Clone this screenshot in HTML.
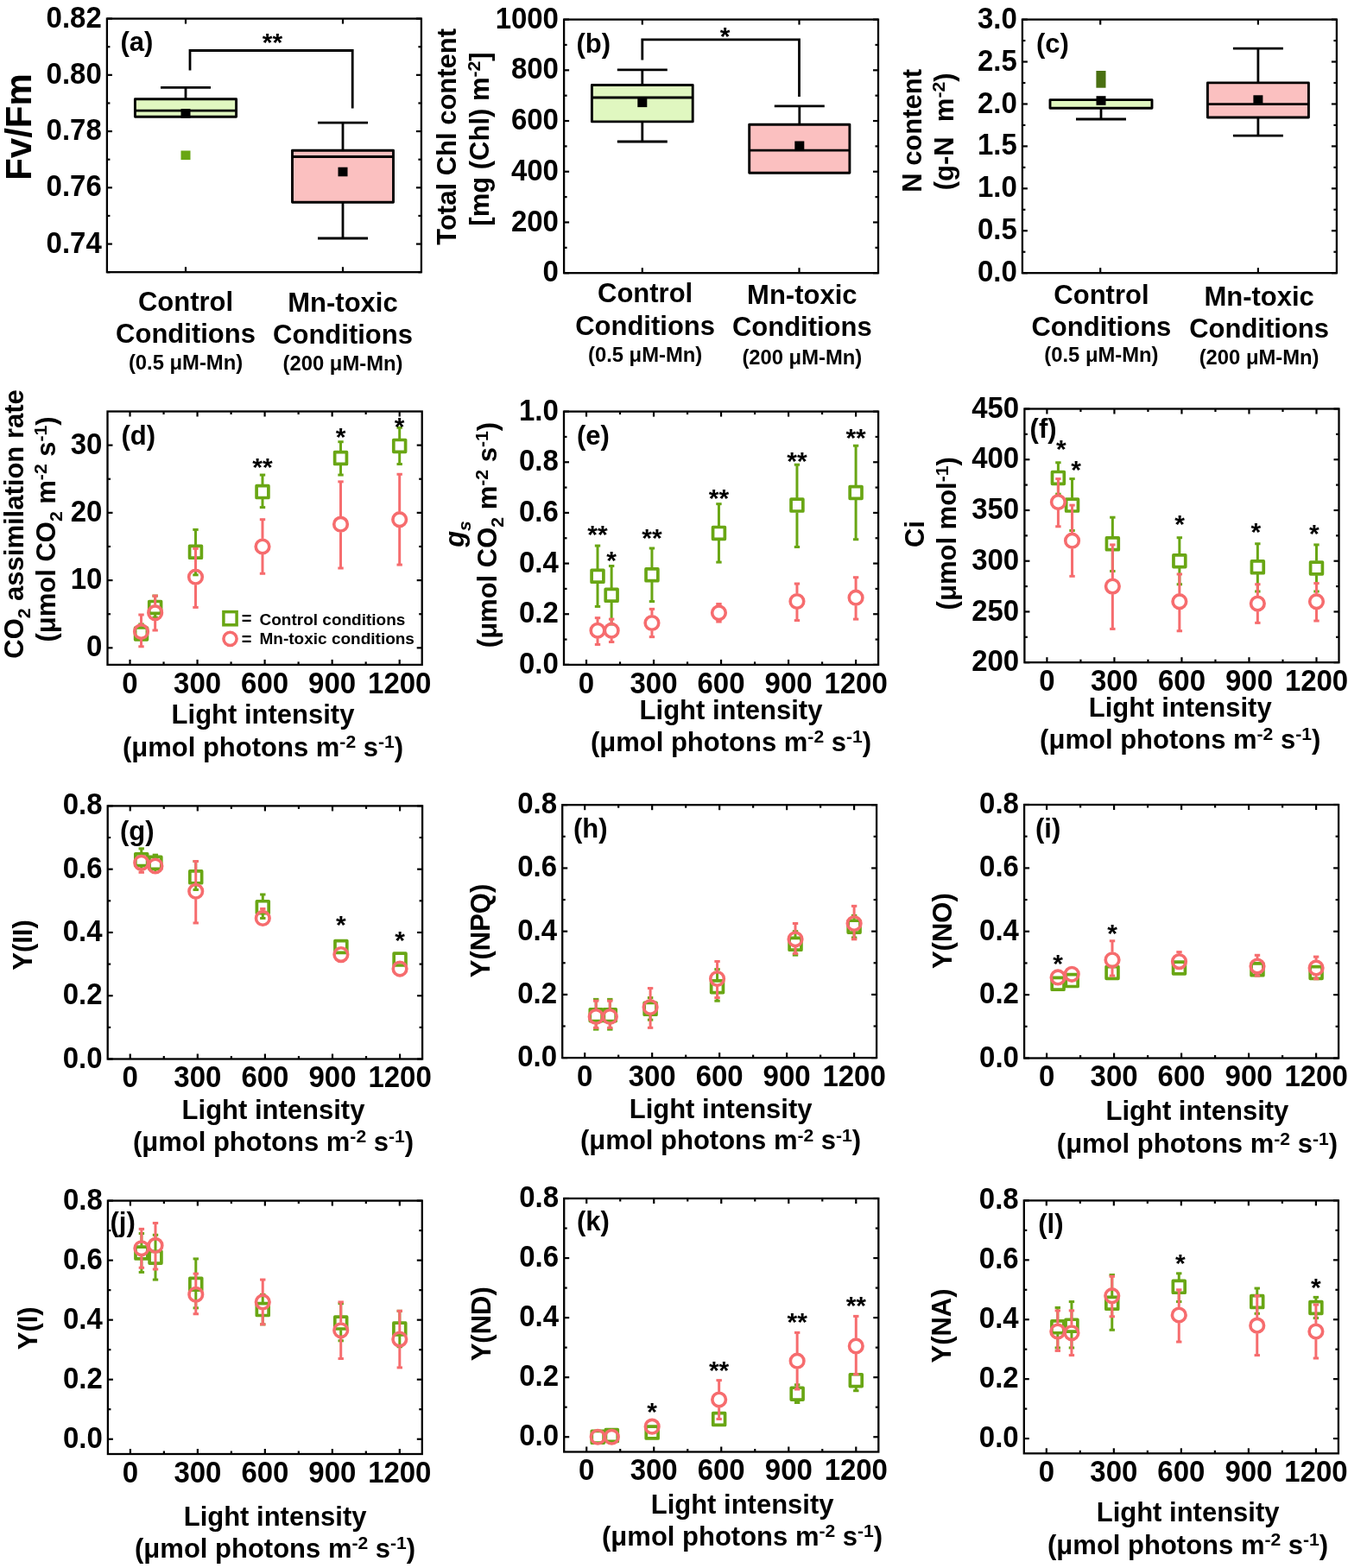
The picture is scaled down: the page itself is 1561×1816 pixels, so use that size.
<!DOCTYPE html>
<html><head><meta charset="utf-8"><title>Figure</title>
<style>
html,body{margin:0;padding:0;background:#fff;}
svg{display:block;}
text{font-family:'Liberation Sans', Arial, sans-serif;font-weight:bold;fill:#000;}
</style></head>
<body>
<svg width="1561" height="1816" viewBox="0 0 1561 1816">
<rect width="1561" height="1816" fill="#fff"/>
<line x1="215.00" y1="101.30" x2="215.00" y2="114.80" stroke="#000" stroke-width="2.8" />
<line x1="186.00" y1="101.30" x2="244.00" y2="101.30" stroke="#000" stroke-width="2.8" />
<rect x="156.40" y="114.80" width="117.20" height="20.40" fill="#e0f7c0" stroke="#000" stroke-width="2.9" stroke-linejoin="round"/>
<line x1="156.40" y1="128.20" x2="273.60" y2="128.20" stroke="#000" stroke-width="2.8" />
<rect x="209.50" y="126.10" width="11" height="10.6" fill="#000"/>
<line x1="397.00" y1="142.20" x2="397.00" y2="174.20" stroke="#000" stroke-width="2.8" />
<line x1="368.00" y1="142.20" x2="426.00" y2="142.20" stroke="#000" stroke-width="2.8" />
<line x1="397.00" y1="234.20" x2="397.00" y2="276.00" stroke="#000" stroke-width="2.8" />
<line x1="368.00" y1="276.00" x2="426.00" y2="276.00" stroke="#000" stroke-width="2.8" />
<rect x="338.50" y="174.20" width="117.00" height="60.00" fill="#fbc0c0" stroke="#000" stroke-width="2.9" stroke-linejoin="round"/>
<line x1="338.50" y1="181.50" x2="455.50" y2="181.50" stroke="#000" stroke-width="2.8" />
<rect x="391.50" y="193.70" width="11" height="10.6" fill="#000"/>
<rect x="209.5" y="174.5" width="11" height="10.6" fill="#69a614"/>
<rect x="123.9" y="21.6" width="364.0" height="293.6" fill="none" stroke="#000" stroke-width="2.3"/>
<line x1="123.90" y1="282.58" x2="129.90" y2="282.58" stroke="#000" stroke-width="2.2" />
<line x1="487.90" y1="282.58" x2="481.90" y2="282.58" stroke="#000" stroke-width="2.2" />
<text transform="translate(117.7,292.6) scale(0.975,1.03)" font-size="33.8" text-anchor="end" >0.74</text>
<line x1="123.90" y1="217.33" x2="129.90" y2="217.33" stroke="#000" stroke-width="2.2" />
<line x1="487.90" y1="217.33" x2="481.90" y2="217.33" stroke="#000" stroke-width="2.2" />
<text transform="translate(117.7,227.3) scale(0.975,1.03)" font-size="33.8" text-anchor="end" >0.76</text>
<line x1="123.90" y1="152.09" x2="129.90" y2="152.09" stroke="#000" stroke-width="2.2" />
<line x1="487.90" y1="152.09" x2="481.90" y2="152.09" stroke="#000" stroke-width="2.2" />
<text transform="translate(117.7,162.1) scale(0.975,1.03)" font-size="33.8" text-anchor="end" >0.78</text>
<line x1="123.90" y1="86.84" x2="129.90" y2="86.84" stroke="#000" stroke-width="2.2" />
<line x1="487.90" y1="86.84" x2="481.90" y2="86.84" stroke="#000" stroke-width="2.2" />
<text transform="translate(117.7,96.8) scale(0.975,1.03)" font-size="33.8" text-anchor="end" >0.80</text>
<line x1="123.90" y1="21.60" x2="129.90" y2="21.60" stroke="#000" stroke-width="2.2" />
<line x1="487.90" y1="21.60" x2="481.90" y2="21.60" stroke="#000" stroke-width="2.2" />
<text transform="translate(117.7,31.6) scale(0.975,1.03)" font-size="33.8" text-anchor="end" >0.82</text>
<line x1="123.90" y1="315.20" x2="127.40" y2="315.20" stroke="#000" stroke-width="2.2" />
<line x1="487.90" y1="315.20" x2="484.40" y2="315.20" stroke="#000" stroke-width="2.2" />
<line x1="123.90" y1="249.96" x2="127.40" y2="249.96" stroke="#000" stroke-width="2.2" />
<line x1="487.90" y1="249.96" x2="484.40" y2="249.96" stroke="#000" stroke-width="2.2" />
<line x1="123.90" y1="184.71" x2="127.40" y2="184.71" stroke="#000" stroke-width="2.2" />
<line x1="487.90" y1="184.71" x2="484.40" y2="184.71" stroke="#000" stroke-width="2.2" />
<line x1="123.90" y1="119.47" x2="127.40" y2="119.47" stroke="#000" stroke-width="2.2" />
<line x1="487.90" y1="119.47" x2="484.40" y2="119.47" stroke="#000" stroke-width="2.2" />
<line x1="123.90" y1="54.22" x2="127.40" y2="54.22" stroke="#000" stroke-width="2.2" />
<line x1="487.90" y1="54.22" x2="484.40" y2="54.22" stroke="#000" stroke-width="2.2" />
<line x1="215.00" y1="315.20" x2="215.00" y2="309.20" stroke="#000" stroke-width="2.2" />
<line x1="215.00" y1="21.60" x2="215.00" y2="27.60" stroke="#000" stroke-width="2.2" />
<line x1="397.00" y1="315.20" x2="397.00" y2="309.20" stroke="#000" stroke-width="2.2" />
<line x1="397.00" y1="21.60" x2="397.00" y2="27.60" stroke="#000" stroke-width="2.2" />
<polyline points="220,81.4 220,58.5 408.2,58.5 408.2,125.5" fill="none" stroke="#000" stroke-width="2.8"/>
<text transform="translate(315.5,59.0)" font-size="30" text-anchor="middle" >**</text>
<text transform="translate(139.5,59.4)" font-size="31" text-anchor="start" >(a)</text>
<text transform="translate(36.2,147.0) rotate(-90)" font-size="42" text-anchor="middle" >Fv/Fm</text>
<text transform="translate(215.0,360.0)" font-size="31" text-anchor="middle" >Control</text>
<text transform="translate(215.0,396.7)" font-size="31" text-anchor="middle" >Conditions</text>
<text transform="translate(215.0,427.7)" font-size="23.8" text-anchor="middle" >(0.5 μM-Mn)</text>
<text transform="translate(397.0,361.0)" font-size="31" text-anchor="middle" >Mn-toxic</text>
<text transform="translate(397.0,398.0)" font-size="31" text-anchor="middle" >Conditions</text>
<text transform="translate(397.0,428.8)" font-size="23.8" text-anchor="middle" >(200 μM-Mn)</text>
<line x1="743.80" y1="80.80" x2="743.80" y2="98.50" stroke="#000" stroke-width="2.8" />
<line x1="714.80" y1="80.80" x2="772.80" y2="80.80" stroke="#000" stroke-width="2.8" />
<line x1="743.80" y1="140.90" x2="743.80" y2="164.00" stroke="#000" stroke-width="2.8" />
<line x1="714.80" y1="164.00" x2="772.80" y2="164.00" stroke="#000" stroke-width="2.8" />
<rect x="685.40" y="98.50" width="116.80" height="42.40" fill="#e0f7c0" stroke="#000" stroke-width="2.9" stroke-linejoin="round"/>
<line x1="685.40" y1="113.00" x2="802.20" y2="113.00" stroke="#000" stroke-width="2.8" />
<rect x="738.30" y="113.50" width="11" height="10.6" fill="#000"/>
<line x1="925.80" y1="122.90" x2="925.80" y2="144.30" stroke="#000" stroke-width="2.8" />
<line x1="896.80" y1="122.90" x2="954.80" y2="122.90" stroke="#000" stroke-width="2.8" />
<rect x="867.70" y="144.30" width="116.20" height="56.00" fill="#fbc0c0" stroke="#000" stroke-width="2.9" stroke-linejoin="round"/>
<line x1="867.70" y1="174.20" x2="983.90" y2="174.20" stroke="#000" stroke-width="2.8" />
<rect x="920.30" y="163.50" width="11" height="10.6" fill="#000"/>
<rect x="653.1" y="22.6" width="363.9" height="293.6" fill="none" stroke="#000" stroke-width="2.3"/>
<line x1="653.10" y1="316.20" x2="659.10" y2="316.20" stroke="#000" stroke-width="2.2" />
<line x1="1017.00" y1="316.20" x2="1011.00" y2="316.20" stroke="#000" stroke-width="2.2" />
<text transform="translate(646.9,326.2) scale(0.975,1.03)" font-size="33.8" text-anchor="end" >0</text>
<line x1="653.10" y1="257.48" x2="659.10" y2="257.48" stroke="#000" stroke-width="2.2" />
<line x1="1017.00" y1="257.48" x2="1011.00" y2="257.48" stroke="#000" stroke-width="2.2" />
<text transform="translate(646.9,267.5) scale(0.975,1.03)" font-size="33.8" text-anchor="end" >200</text>
<line x1="653.10" y1="198.76" x2="659.10" y2="198.76" stroke="#000" stroke-width="2.2" />
<line x1="1017.00" y1="198.76" x2="1011.00" y2="198.76" stroke="#000" stroke-width="2.2" />
<text transform="translate(646.9,208.8) scale(0.975,1.03)" font-size="33.8" text-anchor="end" >400</text>
<line x1="653.10" y1="140.04" x2="659.10" y2="140.04" stroke="#000" stroke-width="2.2" />
<line x1="1017.00" y1="140.04" x2="1011.00" y2="140.04" stroke="#000" stroke-width="2.2" />
<text transform="translate(646.9,150.0) scale(0.975,1.03)" font-size="33.8" text-anchor="end" >600</text>
<line x1="653.10" y1="81.32" x2="659.10" y2="81.32" stroke="#000" stroke-width="2.2" />
<line x1="1017.00" y1="81.32" x2="1011.00" y2="81.32" stroke="#000" stroke-width="2.2" />
<text transform="translate(646.9,91.3) scale(0.975,1.03)" font-size="33.8" text-anchor="end" >800</text>
<line x1="653.10" y1="22.60" x2="659.10" y2="22.60" stroke="#000" stroke-width="2.2" />
<line x1="1017.00" y1="22.60" x2="1011.00" y2="22.60" stroke="#000" stroke-width="2.2" />
<text transform="translate(646.9,32.6) scale(0.975,1.03)" font-size="33.8" text-anchor="end" >1000</text>
<line x1="653.10" y1="286.84" x2="656.60" y2="286.84" stroke="#000" stroke-width="2.2" />
<line x1="1017.00" y1="286.84" x2="1013.50" y2="286.84" stroke="#000" stroke-width="2.2" />
<line x1="653.10" y1="228.12" x2="656.60" y2="228.12" stroke="#000" stroke-width="2.2" />
<line x1="1017.00" y1="228.12" x2="1013.50" y2="228.12" stroke="#000" stroke-width="2.2" />
<line x1="653.10" y1="169.40" x2="656.60" y2="169.40" stroke="#000" stroke-width="2.2" />
<line x1="1017.00" y1="169.40" x2="1013.50" y2="169.40" stroke="#000" stroke-width="2.2" />
<line x1="653.10" y1="110.68" x2="656.60" y2="110.68" stroke="#000" stroke-width="2.2" />
<line x1="1017.00" y1="110.68" x2="1013.50" y2="110.68" stroke="#000" stroke-width="2.2" />
<line x1="653.10" y1="51.96" x2="656.60" y2="51.96" stroke="#000" stroke-width="2.2" />
<line x1="1017.00" y1="51.96" x2="1013.50" y2="51.96" stroke="#000" stroke-width="2.2" />
<line x1="743.80" y1="316.20" x2="743.80" y2="310.20" stroke="#000" stroke-width="2.2" />
<line x1="743.80" y1="22.60" x2="743.80" y2="28.60" stroke="#000" stroke-width="2.2" />
<line x1="925.50" y1="316.20" x2="925.50" y2="310.20" stroke="#000" stroke-width="2.2" />
<line x1="925.50" y1="22.60" x2="925.50" y2="28.60" stroke="#000" stroke-width="2.2" />
<polyline points="743.8,69.6 743.8,45.8 925.5,45.8 925.5,112" fill="none" stroke="#000" stroke-width="2.8"/>
<text transform="translate(839.5,51.5)" font-size="30" text-anchor="middle" >*</text>
<text transform="translate(667.5,60.5)" font-size="31" text-anchor="start" >(b)</text>
<text transform="translate(527.9,158.3) rotate(-90)" font-size="31" text-anchor="middle" >Total Chl content</text>
<text transform="translate(565.7,161.0) rotate(-90)" font-size="31" text-anchor="middle" >[mg (Chl) m<tspan dy="-9.9" font-size="21.1">-2</tspan><tspan dy="9.9">]</tspan></text>
<text transform="translate(747.1,350.2)" font-size="31" text-anchor="middle" >Control</text>
<text transform="translate(747.1,387.5)" font-size="31" text-anchor="middle" >Conditions</text>
<text transform="translate(747.1,418.5)" font-size="23.8" text-anchor="middle" >(0.5 μM-Mn)</text>
<text transform="translate(928.8,351.9)" font-size="31" text-anchor="middle" >Mn-toxic</text>
<text transform="translate(928.8,389.3)" font-size="31" text-anchor="middle" >Conditions</text>
<text transform="translate(928.8,421.5)" font-size="23.8" text-anchor="middle" >(200 μM-Mn)</text>
<line x1="1275.00" y1="125.30" x2="1275.00" y2="138.00" stroke="#000" stroke-width="2.8" />
<line x1="1246.00" y1="138.00" x2="1304.00" y2="138.00" stroke="#000" stroke-width="2.8" />
<rect x="1216.00" y="115.60" width="118.00" height="9.70" fill="#e0f7c0" stroke="#000" stroke-width="2.9" stroke-linejoin="round"/>
<rect x="1269.50" y="111.20" width="11" height="10.6" fill="#000"/>
<rect x="1269.4" y="82" width="11.1" height="19.7" fill="#4a7012"/>
<line x1="1456.90" y1="56.10" x2="1456.90" y2="95.90" stroke="#000" stroke-width="2.8" />
<line x1="1427.90" y1="56.10" x2="1485.90" y2="56.10" stroke="#000" stroke-width="2.8" />
<line x1="1456.90" y1="136.00" x2="1456.90" y2="157.10" stroke="#000" stroke-width="2.8" />
<line x1="1427.90" y1="157.10" x2="1485.90" y2="157.10" stroke="#000" stroke-width="2.8" />
<rect x="1398.40" y="95.90" width="117.00" height="40.10" fill="#fbc0c0" stroke="#000" stroke-width="2.9" stroke-linejoin="round"/>
<line x1="1398.40" y1="120.70" x2="1515.40" y2="120.70" stroke="#000" stroke-width="2.8" />
<rect x="1451.40" y="110.30" width="11" height="10.6" fill="#000"/>
<rect x="1183.9" y="22.6" width="364.0" height="293.6" fill="none" stroke="#000" stroke-width="2.3"/>
<line x1="1183.90" y1="316.20" x2="1189.90" y2="316.20" stroke="#000" stroke-width="2.2" />
<line x1="1547.90" y1="316.20" x2="1541.90" y2="316.20" stroke="#000" stroke-width="2.2" />
<text transform="translate(1177.7,326.2) scale(0.975,1.03)" font-size="33.8" text-anchor="end" >0.0</text>
<line x1="1183.90" y1="267.27" x2="1189.90" y2="267.27" stroke="#000" stroke-width="2.2" />
<line x1="1547.90" y1="267.27" x2="1541.90" y2="267.27" stroke="#000" stroke-width="2.2" />
<text transform="translate(1177.7,277.3) scale(0.975,1.03)" font-size="33.8" text-anchor="end" >0.5</text>
<line x1="1183.90" y1="218.33" x2="1189.90" y2="218.33" stroke="#000" stroke-width="2.2" />
<line x1="1547.90" y1="218.33" x2="1541.90" y2="218.33" stroke="#000" stroke-width="2.2" />
<text transform="translate(1177.7,228.3) scale(0.975,1.03)" font-size="33.8" text-anchor="end" >1.0</text>
<line x1="1183.90" y1="169.40" x2="1189.90" y2="169.40" stroke="#000" stroke-width="2.2" />
<line x1="1547.90" y1="169.40" x2="1541.90" y2="169.40" stroke="#000" stroke-width="2.2" />
<text transform="translate(1177.7,179.4) scale(0.975,1.03)" font-size="33.8" text-anchor="end" >1.5</text>
<line x1="1183.90" y1="120.47" x2="1189.90" y2="120.47" stroke="#000" stroke-width="2.2" />
<line x1="1547.90" y1="120.47" x2="1541.90" y2="120.47" stroke="#000" stroke-width="2.2" />
<text transform="translate(1177.7,130.5) scale(0.975,1.03)" font-size="33.8" text-anchor="end" >2.0</text>
<line x1="1183.90" y1="71.53" x2="1189.90" y2="71.53" stroke="#000" stroke-width="2.2" />
<line x1="1547.90" y1="71.53" x2="1541.90" y2="71.53" stroke="#000" stroke-width="2.2" />
<text transform="translate(1177.7,81.5) scale(0.975,1.03)" font-size="33.8" text-anchor="end" >2.5</text>
<line x1="1183.90" y1="22.60" x2="1189.90" y2="22.60" stroke="#000" stroke-width="2.2" />
<line x1="1547.90" y1="22.60" x2="1541.90" y2="22.60" stroke="#000" stroke-width="2.2" />
<text transform="translate(1177.7,32.6) scale(0.975,1.03)" font-size="33.8" text-anchor="end" >3.0</text>
<line x1="1183.90" y1="291.73" x2="1187.40" y2="291.73" stroke="#000" stroke-width="2.2" />
<line x1="1547.90" y1="291.73" x2="1544.40" y2="291.73" stroke="#000" stroke-width="2.2" />
<line x1="1183.90" y1="242.80" x2="1187.40" y2="242.80" stroke="#000" stroke-width="2.2" />
<line x1="1547.90" y1="242.80" x2="1544.40" y2="242.80" stroke="#000" stroke-width="2.2" />
<line x1="1183.90" y1="193.87" x2="1187.40" y2="193.87" stroke="#000" stroke-width="2.2" />
<line x1="1547.90" y1="193.87" x2="1544.40" y2="193.87" stroke="#000" stroke-width="2.2" />
<line x1="1183.90" y1="144.93" x2="1187.40" y2="144.93" stroke="#000" stroke-width="2.2" />
<line x1="1547.90" y1="144.93" x2="1544.40" y2="144.93" stroke="#000" stroke-width="2.2" />
<line x1="1183.90" y1="96.00" x2="1187.40" y2="96.00" stroke="#000" stroke-width="2.2" />
<line x1="1547.90" y1="96.00" x2="1544.40" y2="96.00" stroke="#000" stroke-width="2.2" />
<line x1="1183.90" y1="47.07" x2="1187.40" y2="47.07" stroke="#000" stroke-width="2.2" />
<line x1="1547.90" y1="47.07" x2="1544.40" y2="47.07" stroke="#000" stroke-width="2.2" />
<line x1="1274.20" y1="316.20" x2="1274.20" y2="310.20" stroke="#000" stroke-width="2.2" />
<line x1="1274.20" y1="22.60" x2="1274.20" y2="28.60" stroke="#000" stroke-width="2.2" />
<line x1="1456.90" y1="316.20" x2="1456.90" y2="310.20" stroke="#000" stroke-width="2.2" />
<line x1="1456.90" y1="22.60" x2="1456.90" y2="28.60" stroke="#000" stroke-width="2.2" />
<text transform="translate(1200.0,61.0)" font-size="31" text-anchor="start" >(c)</text>
<text transform="translate(1066.5,151.4) rotate(-90)" font-size="31" text-anchor="middle" >N content</text>
<text transform="translate(1103.9,152.4) rotate(-90)" font-size="31" text-anchor="middle" >(g-N&#160; m<tspan dy="-9.9" font-size="21.1">-2</tspan><tspan dy="9.9">)</tspan></text>
<text transform="translate(1275.4,352.0)" font-size="31" text-anchor="middle" >Control</text>
<text transform="translate(1275.4,388.8)" font-size="31" text-anchor="middle" >Conditions</text>
<text transform="translate(1275.4,419.3)" font-size="23.8" text-anchor="middle" >(0.5 μM-Mn)</text>
<text transform="translate(1458.1,353.7)" font-size="31" text-anchor="middle" >Mn-toxic</text>
<text transform="translate(1458.1,390.5)" font-size="31" text-anchor="middle" >Conditions</text>
<text transform="translate(1458.1,422.3)" font-size="23.8" text-anchor="middle" >(200 μM-Mn)</text>
<line x1="163.52" y1="722.96" x2="163.52" y2="725.66" stroke="#69a614" stroke-width="3" />
<line x1="160.32" y1="722.96" x2="166.72" y2="722.96" stroke="#69a614" stroke-width="3" />
<line x1="179.65" y1="690.10" x2="179.65" y2="695.15" stroke="#69a614" stroke-width="3" />
<line x1="176.45" y1="690.10" x2="182.85" y2="690.10" stroke="#69a614" stroke-width="3" />
<line x1="179.65" y1="711.65" x2="179.65" y2="715.13" stroke="#69a614" stroke-width="3" />
<line x1="176.45" y1="715.13" x2="182.85" y2="715.13" stroke="#69a614" stroke-width="3" />
<line x1="226.48" y1="613.42" x2="226.48" y2="630.99" stroke="#69a614" stroke-width="3" />
<line x1="223.28" y1="613.42" x2="229.68" y2="613.42" stroke="#69a614" stroke-width="3" />
<line x1="226.48" y1="647.49" x2="226.48" y2="665.84" stroke="#69a614" stroke-width="3" />
<line x1="223.28" y1="665.84" x2="229.68" y2="665.84" stroke="#69a614" stroke-width="3" />
<line x1="304.00" y1="550.05" x2="304.00" y2="561.36" stroke="#69a614" stroke-width="3" />
<line x1="300.80" y1="550.05" x2="307.20" y2="550.05" stroke="#69a614" stroke-width="3" />
<line x1="304.00" y1="577.86" x2="304.00" y2="587.60" stroke="#69a614" stroke-width="3" />
<line x1="300.80" y1="587.60" x2="307.20" y2="587.60" stroke="#69a614" stroke-width="3" />
<line x1="394.53" y1="511.71" x2="394.53" y2="522.24" stroke="#69a614" stroke-width="3" />
<line x1="391.33" y1="511.71" x2="397.73" y2="511.71" stroke="#69a614" stroke-width="3" />
<line x1="394.53" y1="538.74" x2="394.53" y2="550.05" stroke="#69a614" stroke-width="3" />
<line x1="391.33" y1="550.05" x2="397.73" y2="550.05" stroke="#69a614" stroke-width="3" />
<line x1="462.69" y1="495.28" x2="462.69" y2="508.15" stroke="#69a614" stroke-width="3" />
<line x1="459.49" y1="495.28" x2="465.89" y2="495.28" stroke="#69a614" stroke-width="3" />
<line x1="462.69" y1="524.65" x2="462.69" y2="537.53" stroke="#69a614" stroke-width="3" />
<line x1="459.49" y1="537.53" x2="465.89" y2="537.53" stroke="#69a614" stroke-width="3" />
<rect x="156.62" y="727.01" width="13.8" height="13.8" fill="none" stroke="#69a614" stroke-width="3.7" stroke-linejoin="round"/>
<rect x="172.75" y="696.50" width="13.8" height="13.8" fill="none" stroke="#69a614" stroke-width="3.7" stroke-linejoin="round"/>
<rect x="219.58" y="632.34" width="13.8" height="13.8" fill="none" stroke="#69a614" stroke-width="3.7" stroke-linejoin="round"/>
<rect x="297.10" y="562.71" width="13.8" height="13.8" fill="none" stroke="#69a614" stroke-width="3.7" stroke-linejoin="round"/>
<rect x="387.63" y="523.59" width="13.8" height="13.8" fill="none" stroke="#69a614" stroke-width="3.7" stroke-linejoin="round"/>
<rect x="455.79" y="509.50" width="13.8" height="13.8" fill="none" stroke="#69a614" stroke-width="3.7" stroke-linejoin="round"/>
<line x1="163.52" y1="712.00" x2="163.52" y2="722.46" stroke="#f66c6e" stroke-width="3" />
<line x1="160.32" y1="712.00" x2="166.72" y2="712.00" stroke="#f66c6e" stroke-width="3" />
<line x1="163.52" y1="740.66" x2="163.52" y2="748.78" stroke="#f66c6e" stroke-width="3" />
<line x1="160.32" y1="748.78" x2="166.72" y2="748.78" stroke="#f66c6e" stroke-width="3" />
<line x1="179.65" y1="690.10" x2="179.65" y2="700.56" stroke="#f66c6e" stroke-width="3" />
<line x1="176.45" y1="690.10" x2="182.85" y2="690.10" stroke="#f66c6e" stroke-width="3" />
<line x1="179.65" y1="718.76" x2="179.65" y2="730.00" stroke="#f66c6e" stroke-width="3" />
<line x1="176.45" y1="730.00" x2="182.85" y2="730.00" stroke="#f66c6e" stroke-width="3" />
<line x1="226.48" y1="635.33" x2="226.48" y2="659.09" stroke="#f66c6e" stroke-width="3" />
<line x1="223.28" y1="635.33" x2="229.68" y2="635.33" stroke="#f66c6e" stroke-width="3" />
<line x1="226.48" y1="677.29" x2="226.48" y2="703.40" stroke="#f66c6e" stroke-width="3" />
<line x1="223.28" y1="703.40" x2="229.68" y2="703.40" stroke="#f66c6e" stroke-width="3" />
<line x1="304.00" y1="601.68" x2="304.00" y2="623.88" stroke="#f66c6e" stroke-width="3" />
<line x1="300.80" y1="601.68" x2="307.20" y2="601.68" stroke="#f66c6e" stroke-width="3" />
<line x1="304.00" y1="642.08" x2="304.00" y2="664.28" stroke="#f66c6e" stroke-width="3" />
<line x1="300.80" y1="664.28" x2="307.20" y2="664.28" stroke="#f66c6e" stroke-width="3" />
<line x1="394.53" y1="557.87" x2="394.53" y2="598.06" stroke="#f66c6e" stroke-width="3" />
<line x1="391.33" y1="557.87" x2="397.73" y2="557.87" stroke="#f66c6e" stroke-width="3" />
<line x1="394.53" y1="616.26" x2="394.53" y2="658.02" stroke="#f66c6e" stroke-width="3" />
<line x1="391.33" y1="658.02" x2="397.73" y2="658.02" stroke="#f66c6e" stroke-width="3" />
<line x1="462.69" y1="549.26" x2="462.69" y2="592.58" stroke="#f66c6e" stroke-width="3" />
<line x1="459.49" y1="549.26" x2="465.89" y2="549.26" stroke="#f66c6e" stroke-width="3" />
<line x1="462.69" y1="610.78" x2="462.69" y2="654.10" stroke="#f66c6e" stroke-width="3" />
<line x1="459.49" y1="654.10" x2="465.89" y2="654.10" stroke="#f66c6e" stroke-width="3" />
<circle cx="163.52" cy="731.56" r="7.8" fill="none" stroke="#f66c6e" stroke-width="3.6"/>
<circle cx="179.65" cy="709.66" r="7.8" fill="none" stroke="#f66c6e" stroke-width="3.6"/>
<circle cx="226.48" cy="668.19" r="7.8" fill="none" stroke="#f66c6e" stroke-width="3.6"/>
<circle cx="304.00" cy="632.98" r="7.8" fill="none" stroke="#f66c6e" stroke-width="3.6"/>
<circle cx="394.53" cy="607.16" r="7.8" fill="none" stroke="#f66c6e" stroke-width="3.6"/>
<circle cx="462.69" cy="601.68" r="7.8" fill="none" stroke="#f66c6e" stroke-width="3.6"/>
<rect x="124.5" y="476.5" width="364.2" height="293.4" fill="none" stroke="#000" stroke-width="2.3"/>
<line x1="124.50" y1="750.34" x2="130.50" y2="750.34" stroke="#000" stroke-width="2.2" />
<line x1="488.70" y1="750.34" x2="482.70" y2="750.34" stroke="#000" stroke-width="2.2" />
<text transform="translate(118.3,760.3) scale(0.975,1.03)" font-size="33.8" text-anchor="end" >0</text>
<line x1="124.50" y1="672.10" x2="130.50" y2="672.10" stroke="#000" stroke-width="2.2" />
<line x1="488.70" y1="672.10" x2="482.70" y2="672.10" stroke="#000" stroke-width="2.2" />
<text transform="translate(118.3,682.1) scale(0.975,1.03)" font-size="33.8" text-anchor="end" >10</text>
<line x1="124.50" y1="593.86" x2="130.50" y2="593.86" stroke="#000" stroke-width="2.2" />
<line x1="488.70" y1="593.86" x2="482.70" y2="593.86" stroke="#000" stroke-width="2.2" />
<text transform="translate(118.3,603.9) scale(0.975,1.03)" font-size="33.8" text-anchor="end" >20</text>
<line x1="124.50" y1="515.62" x2="130.50" y2="515.62" stroke="#000" stroke-width="2.2" />
<line x1="488.70" y1="515.62" x2="482.70" y2="515.62" stroke="#000" stroke-width="2.2" />
<text transform="translate(118.3,525.6) scale(0.975,1.03)" font-size="33.8" text-anchor="end" >30</text>
<line x1="124.50" y1="711.22" x2="128.00" y2="711.22" stroke="#000" stroke-width="2.2" />
<line x1="488.70" y1="711.22" x2="485.20" y2="711.22" stroke="#000" stroke-width="2.2" />
<line x1="124.50" y1="632.98" x2="128.00" y2="632.98" stroke="#000" stroke-width="2.2" />
<line x1="488.70" y1="632.98" x2="485.20" y2="632.98" stroke="#000" stroke-width="2.2" />
<line x1="124.50" y1="554.74" x2="128.00" y2="554.74" stroke="#000" stroke-width="2.2" />
<line x1="488.70" y1="554.74" x2="485.20" y2="554.74" stroke="#000" stroke-width="2.2" />
<line x1="150.51" y1="769.90" x2="150.51" y2="763.90" stroke="#000" stroke-width="2.2" />
<line x1="150.51" y1="476.50" x2="150.51" y2="482.50" stroke="#000" stroke-width="2.2" />
<text transform="translate(150.5,802.5) scale(0.975,1.03)" font-size="33.8" text-anchor="middle" >0</text>
<line x1="228.56" y1="769.90" x2="228.56" y2="763.90" stroke="#000" stroke-width="2.2" />
<line x1="228.56" y1="476.50" x2="228.56" y2="482.50" stroke="#000" stroke-width="2.2" />
<text transform="translate(228.6,802.5) scale(0.975,1.03)" font-size="33.8" text-anchor="middle" >300</text>
<line x1="306.60" y1="769.90" x2="306.60" y2="763.90" stroke="#000" stroke-width="2.2" />
<line x1="306.60" y1="476.50" x2="306.60" y2="482.50" stroke="#000" stroke-width="2.2" />
<text transform="translate(306.6,802.5) scale(0.975,1.03)" font-size="33.8" text-anchor="middle" >600</text>
<line x1="384.64" y1="769.90" x2="384.64" y2="763.90" stroke="#000" stroke-width="2.2" />
<line x1="384.64" y1="476.50" x2="384.64" y2="482.50" stroke="#000" stroke-width="2.2" />
<text transform="translate(384.6,802.5) scale(0.975,1.03)" font-size="33.8" text-anchor="middle" >900</text>
<line x1="462.69" y1="769.90" x2="462.69" y2="763.90" stroke="#000" stroke-width="2.2" />
<line x1="462.69" y1="476.50" x2="462.69" y2="482.50" stroke="#000" stroke-width="2.2" />
<text transform="translate(462.7,802.5) scale(0.975,1.03)" font-size="33.8" text-anchor="middle" >1200</text>
<line x1="189.54" y1="769.90" x2="189.54" y2="766.40" stroke="#000" stroke-width="2.2" />
<line x1="189.54" y1="476.50" x2="189.54" y2="480.00" stroke="#000" stroke-width="2.2" />
<line x1="267.58" y1="769.90" x2="267.58" y2="766.40" stroke="#000" stroke-width="2.2" />
<line x1="267.58" y1="476.50" x2="267.58" y2="480.00" stroke="#000" stroke-width="2.2" />
<line x1="345.62" y1="769.90" x2="345.62" y2="766.40" stroke="#000" stroke-width="2.2" />
<line x1="345.62" y1="476.50" x2="345.62" y2="480.00" stroke="#000" stroke-width="2.2" />
<line x1="423.66" y1="769.90" x2="423.66" y2="766.40" stroke="#000" stroke-width="2.2" />
<line x1="423.66" y1="476.50" x2="423.66" y2="480.00" stroke="#000" stroke-width="2.2" />
<text transform="translate(304.0,551.2)" font-size="30" text-anchor="middle" >**</text>
<text transform="translate(394.5,516.2)" font-size="30" text-anchor="middle" >*</text>
<text transform="translate(462.7,503.9)" font-size="30" text-anchor="middle" >*</text>
<text transform="translate(140.5,514.6)" font-size="31" text-anchor="start" >(d)</text>
<rect x="258.9" y="708.6" width="15.2" height="15.2" fill="none" stroke="#69a614" stroke-width="3.5"/>
<circle cx="266.5" cy="739.8" r="7.6" fill="none" stroke="#f66c6e" stroke-width="3.5"/>
<text transform="translate(279.8,723.2)" font-size="20" text-anchor="start" font-weight:normal>=</text>
<text transform="translate(279.8,746.6)" font-size="20" text-anchor="start" font-weight:normal>=</text>
<text transform="translate(300.5,724.2)" font-size="19" text-anchor="start" >Control conditions</text>
<text transform="translate(300.5,746.2)" font-size="19" text-anchor="start" >Mn-toxic conditions</text>
<text transform="translate(27.0,607.0) rotate(-90)" font-size="31" text-anchor="middle" >CO<tspan dy="8.1" font-size="21.1">2</tspan><tspan dy="-8.1"> assimilation rate</tspan></text>
<text transform="translate(63.9,613.0) rotate(-90)" font-size="31" text-anchor="middle" >(μmol CO<tspan dy="8.1" font-size="21.1">2</tspan><tspan dy="-8.1"> m</tspan><tspan dy="-9.9" font-size="21.1">-2</tspan><tspan dy="9.9"> s</tspan><tspan dy="-9.9" font-size="21.1">-1</tspan><tspan dy="9.9">)</tspan></text>
<text transform="translate(304.5,837.6)" font-size="31" text-anchor="middle" >Light intensity</text>
<text transform="translate(304.5,875.8)" font-size="31" text-anchor="middle" >(μmol photons m<tspan dy="-9.9" font-size="21.1">-2</tspan><tspan dy="9.9"> s</tspan><tspan dy="-9.9" font-size="21.1">-1</tspan><tspan dy="9.9">)</tspan></text>
<line x1="692.01" y1="632.05" x2="692.01" y2="659.00" stroke="#69a614" stroke-width="3" />
<line x1="688.81" y1="632.05" x2="695.21" y2="632.05" stroke="#69a614" stroke-width="3" />
<line x1="692.01" y1="675.50" x2="692.01" y2="702.44" stroke="#69a614" stroke-width="3" />
<line x1="688.81" y1="702.44" x2="695.21" y2="702.44" stroke="#69a614" stroke-width="3" />
<line x1="708.14" y1="655.51" x2="708.14" y2="680.99" stroke="#69a614" stroke-width="3" />
<line x1="704.94" y1="655.51" x2="711.34" y2="655.51" stroke="#69a614" stroke-width="3" />
<line x1="708.14" y1="697.49" x2="708.14" y2="722.97" stroke="#69a614" stroke-width="3" />
<line x1="704.94" y1="722.97" x2="711.34" y2="722.97" stroke="#69a614" stroke-width="3" />
<line x1="754.95" y1="634.98" x2="754.95" y2="657.53" stroke="#69a614" stroke-width="3" />
<line x1="751.75" y1="634.98" x2="758.15" y2="634.98" stroke="#69a614" stroke-width="3" />
<line x1="754.95" y1="674.03" x2="754.95" y2="696.58" stroke="#69a614" stroke-width="3" />
<line x1="751.75" y1="696.58" x2="758.15" y2="696.58" stroke="#69a614" stroke-width="3" />
<line x1="832.45" y1="583.65" x2="832.45" y2="609.13" stroke="#69a614" stroke-width="3" />
<line x1="829.25" y1="583.65" x2="835.65" y2="583.65" stroke="#69a614" stroke-width="3" />
<line x1="832.45" y1="625.63" x2="832.45" y2="651.11" stroke="#69a614" stroke-width="3" />
<line x1="829.25" y1="651.11" x2="835.65" y2="651.11" stroke="#69a614" stroke-width="3" />
<line x1="922.95" y1="538.19" x2="922.95" y2="576.87" stroke="#69a614" stroke-width="3" />
<line x1="919.75" y1="538.19" x2="926.15" y2="538.19" stroke="#69a614" stroke-width="3" />
<line x1="922.95" y1="593.37" x2="922.95" y2="633.52" stroke="#69a614" stroke-width="3" />
<line x1="919.75" y1="633.52" x2="926.15" y2="633.52" stroke="#69a614" stroke-width="3" />
<line x1="991.09" y1="516.20" x2="991.09" y2="562.21" stroke="#69a614" stroke-width="3" />
<line x1="987.89" y1="516.20" x2="994.29" y2="516.20" stroke="#69a614" stroke-width="3" />
<line x1="991.09" y1="578.71" x2="991.09" y2="624.72" stroke="#69a614" stroke-width="3" />
<line x1="987.89" y1="624.72" x2="994.29" y2="624.72" stroke="#69a614" stroke-width="3" />
<rect x="685.11" y="660.35" width="13.8" height="13.8" fill="none" stroke="#69a614" stroke-width="3.7" stroke-linejoin="round"/>
<rect x="701.24" y="682.34" width="13.8" height="13.8" fill="none" stroke="#69a614" stroke-width="3.7" stroke-linejoin="round"/>
<rect x="748.05" y="658.88" width="13.8" height="13.8" fill="none" stroke="#69a614" stroke-width="3.7" stroke-linejoin="round"/>
<rect x="825.55" y="610.48" width="13.8" height="13.8" fill="none" stroke="#69a614" stroke-width="3.7" stroke-linejoin="round"/>
<rect x="916.05" y="578.22" width="13.8" height="13.8" fill="none" stroke="#69a614" stroke-width="3.7" stroke-linejoin="round"/>
<rect x="984.19" y="563.56" width="13.8" height="13.8" fill="none" stroke="#69a614" stroke-width="3.7" stroke-linejoin="round"/>
<line x1="692.01" y1="715.64" x2="692.01" y2="721.20" stroke="#f66c6e" stroke-width="3" />
<line x1="688.81" y1="715.64" x2="695.21" y2="715.64" stroke="#f66c6e" stroke-width="3" />
<line x1="692.01" y1="739.40" x2="692.01" y2="746.44" stroke="#f66c6e" stroke-width="3" />
<line x1="688.81" y1="746.44" x2="695.21" y2="746.44" stroke="#f66c6e" stroke-width="3" />
<line x1="708.14" y1="717.11" x2="708.14" y2="721.20" stroke="#f66c6e" stroke-width="3" />
<line x1="704.94" y1="717.11" x2="711.34" y2="717.11" stroke="#f66c6e" stroke-width="3" />
<line x1="708.14" y1="739.40" x2="708.14" y2="743.50" stroke="#f66c6e" stroke-width="3" />
<line x1="704.94" y1="743.50" x2="711.34" y2="743.50" stroke="#f66c6e" stroke-width="3" />
<line x1="754.95" y1="705.37" x2="754.95" y2="712.41" stroke="#f66c6e" stroke-width="3" />
<line x1="751.75" y1="705.37" x2="758.15" y2="705.37" stroke="#f66c6e" stroke-width="3" />
<line x1="754.95" y1="730.61" x2="754.95" y2="737.64" stroke="#f66c6e" stroke-width="3" />
<line x1="751.75" y1="737.64" x2="758.15" y2="737.64" stroke="#f66c6e" stroke-width="3" />
<line x1="832.45" y1="699.51" x2="832.45" y2="700.67" stroke="#f66c6e" stroke-width="3" />
<line x1="829.25" y1="699.51" x2="835.65" y2="699.51" stroke="#f66c6e" stroke-width="3" />
<line x1="832.45" y1="718.87" x2="832.45" y2="720.04" stroke="#f66c6e" stroke-width="3" />
<line x1="829.25" y1="720.04" x2="835.65" y2="720.04" stroke="#f66c6e" stroke-width="3" />
<line x1="922.95" y1="676.04" x2="922.95" y2="687.48" stroke="#f66c6e" stroke-width="3" />
<line x1="919.75" y1="676.04" x2="926.15" y2="676.04" stroke="#f66c6e" stroke-width="3" />
<line x1="922.95" y1="705.68" x2="922.95" y2="718.57" stroke="#f66c6e" stroke-width="3" />
<line x1="919.75" y1="718.57" x2="926.15" y2="718.57" stroke="#f66c6e" stroke-width="3" />
<line x1="991.09" y1="668.71" x2="991.09" y2="683.08" stroke="#f66c6e" stroke-width="3" />
<line x1="987.89" y1="668.71" x2="994.29" y2="668.71" stroke="#f66c6e" stroke-width="3" />
<line x1="991.09" y1="701.28" x2="991.09" y2="717.11" stroke="#f66c6e" stroke-width="3" />
<line x1="987.89" y1="717.11" x2="994.29" y2="717.11" stroke="#f66c6e" stroke-width="3" />
<circle cx="692.01" cy="730.30" r="7.8" fill="none" stroke="#f66c6e" stroke-width="3.6"/>
<circle cx="708.14" cy="730.30" r="7.8" fill="none" stroke="#f66c6e" stroke-width="3.6"/>
<circle cx="754.95" cy="721.51" r="7.8" fill="none" stroke="#f66c6e" stroke-width="3.6"/>
<circle cx="832.45" cy="709.77" r="7.8" fill="none" stroke="#f66c6e" stroke-width="3.6"/>
<circle cx="922.95" cy="696.58" r="7.8" fill="none" stroke="#f66c6e" stroke-width="3.6"/>
<circle cx="991.09" cy="692.18" r="7.8" fill="none" stroke="#f66c6e" stroke-width="3.6"/>
<rect x="653.0" y="476.6" width="364.1" height="293.3" fill="none" stroke="#000" stroke-width="2.3"/>
<line x1="653.00" y1="769.90" x2="659.00" y2="769.90" stroke="#000" stroke-width="2.2" />
<line x1="1017.10" y1="769.90" x2="1011.10" y2="769.90" stroke="#000" stroke-width="2.2" />
<text transform="translate(646.8,779.9) scale(0.975,1.03)" font-size="33.8" text-anchor="end" >0.0</text>
<line x1="653.00" y1="711.24" x2="659.00" y2="711.24" stroke="#000" stroke-width="2.2" />
<line x1="1017.10" y1="711.24" x2="1011.10" y2="711.24" stroke="#000" stroke-width="2.2" />
<text transform="translate(646.8,721.2) scale(0.975,1.03)" font-size="33.8" text-anchor="end" >0.2</text>
<line x1="653.00" y1="652.58" x2="659.00" y2="652.58" stroke="#000" stroke-width="2.2" />
<line x1="1017.10" y1="652.58" x2="1011.10" y2="652.58" stroke="#000" stroke-width="2.2" />
<text transform="translate(646.8,662.6) scale(0.975,1.03)" font-size="33.8" text-anchor="end" >0.4</text>
<line x1="653.00" y1="593.92" x2="659.00" y2="593.92" stroke="#000" stroke-width="2.2" />
<line x1="1017.10" y1="593.92" x2="1011.10" y2="593.92" stroke="#000" stroke-width="2.2" />
<text transform="translate(646.8,603.9) scale(0.975,1.03)" font-size="33.8" text-anchor="end" >0.6</text>
<line x1="653.00" y1="535.26" x2="659.00" y2="535.26" stroke="#000" stroke-width="2.2" />
<line x1="1017.10" y1="535.26" x2="1011.10" y2="535.26" stroke="#000" stroke-width="2.2" />
<text transform="translate(646.8,545.3) scale(0.975,1.03)" font-size="33.8" text-anchor="end" >0.8</text>
<line x1="653.00" y1="476.60" x2="659.00" y2="476.60" stroke="#000" stroke-width="2.2" />
<line x1="1017.10" y1="476.60" x2="1011.10" y2="476.60" stroke="#000" stroke-width="2.2" />
<text transform="translate(646.8,486.6) scale(0.975,1.03)" font-size="33.8" text-anchor="end" >1.0</text>
<line x1="653.00" y1="740.57" x2="656.50" y2="740.57" stroke="#000" stroke-width="2.2" />
<line x1="1017.10" y1="740.57" x2="1013.60" y2="740.57" stroke="#000" stroke-width="2.2" />
<line x1="653.00" y1="681.91" x2="656.50" y2="681.91" stroke="#000" stroke-width="2.2" />
<line x1="1017.10" y1="681.91" x2="1013.60" y2="681.91" stroke="#000" stroke-width="2.2" />
<line x1="653.00" y1="623.25" x2="656.50" y2="623.25" stroke="#000" stroke-width="2.2" />
<line x1="1017.10" y1="623.25" x2="1013.60" y2="623.25" stroke="#000" stroke-width="2.2" />
<line x1="653.00" y1="564.59" x2="656.50" y2="564.59" stroke="#000" stroke-width="2.2" />
<line x1="1017.10" y1="564.59" x2="1013.60" y2="564.59" stroke="#000" stroke-width="2.2" />
<line x1="653.00" y1="505.93" x2="656.50" y2="505.93" stroke="#000" stroke-width="2.2" />
<line x1="1017.10" y1="505.93" x2="1013.60" y2="505.93" stroke="#000" stroke-width="2.2" />
<line x1="679.01" y1="769.90" x2="679.01" y2="763.90" stroke="#000" stroke-width="2.2" />
<line x1="679.01" y1="476.60" x2="679.01" y2="482.60" stroke="#000" stroke-width="2.2" />
<text transform="translate(679.0,802.5) scale(0.975,1.03)" font-size="33.8" text-anchor="middle" >0</text>
<line x1="757.03" y1="769.90" x2="757.03" y2="763.90" stroke="#000" stroke-width="2.2" />
<line x1="757.03" y1="476.60" x2="757.03" y2="482.60" stroke="#000" stroke-width="2.2" />
<text transform="translate(757.0,802.5) scale(0.975,1.03)" font-size="33.8" text-anchor="middle" >300</text>
<line x1="835.05" y1="769.90" x2="835.05" y2="763.90" stroke="#000" stroke-width="2.2" />
<line x1="835.05" y1="476.60" x2="835.05" y2="482.60" stroke="#000" stroke-width="2.2" />
<text transform="translate(835.0,802.5) scale(0.975,1.03)" font-size="33.8" text-anchor="middle" >600</text>
<line x1="913.07" y1="769.90" x2="913.07" y2="763.90" stroke="#000" stroke-width="2.2" />
<line x1="913.07" y1="476.60" x2="913.07" y2="482.60" stroke="#000" stroke-width="2.2" />
<text transform="translate(913.1,802.5) scale(0.975,1.03)" font-size="33.8" text-anchor="middle" >900</text>
<line x1="991.09" y1="769.90" x2="991.09" y2="763.90" stroke="#000" stroke-width="2.2" />
<line x1="991.09" y1="476.60" x2="991.09" y2="482.60" stroke="#000" stroke-width="2.2" />
<text transform="translate(991.1,802.5) scale(0.975,1.03)" font-size="33.8" text-anchor="middle" >1200</text>
<line x1="718.02" y1="769.90" x2="718.02" y2="766.40" stroke="#000" stroke-width="2.2" />
<line x1="718.02" y1="476.60" x2="718.02" y2="480.10" stroke="#000" stroke-width="2.2" />
<line x1="796.04" y1="769.90" x2="796.04" y2="766.40" stroke="#000" stroke-width="2.2" />
<line x1="796.04" y1="476.60" x2="796.04" y2="480.10" stroke="#000" stroke-width="2.2" />
<line x1="874.06" y1="769.90" x2="874.06" y2="766.40" stroke="#000" stroke-width="2.2" />
<line x1="874.06" y1="476.60" x2="874.06" y2="480.10" stroke="#000" stroke-width="2.2" />
<line x1="952.08" y1="769.90" x2="952.08" y2="766.40" stroke="#000" stroke-width="2.2" />
<line x1="952.08" y1="476.60" x2="952.08" y2="480.10" stroke="#000" stroke-width="2.2" />
<text transform="translate(692.0,628.5)" font-size="30" text-anchor="middle" >**</text>
<text transform="translate(708.1,658.5)" font-size="30" text-anchor="middle" >*</text>
<text transform="translate(754.9,632.8)" font-size="30" text-anchor="middle" >**</text>
<text transform="translate(832.4,587.2)" font-size="30" text-anchor="middle" >**</text>
<text transform="translate(923.0,543.8)" font-size="30" text-anchor="middle" >**</text>
<text transform="translate(991.1,517.2)" font-size="30" text-anchor="middle" >**</text>
<text transform="translate(668.0,514.5)" font-size="31" text-anchor="start" >(e)</text>
<text transform="translate(537.0,618.5) rotate(-90)" font-size="31" text-anchor="middle" ><tspan font-style="italic" dy="0.0">g</tspan><tspan dy="8.1" font-size="21.1"><tspan font-style="italic">s</tspan></tspan></text>
<text transform="translate(574.5,619.6) rotate(-90)" font-size="31" text-anchor="middle" >(μmol CO<tspan dy="8.1" font-size="21.1">2</tspan><tspan dy="-8.1"> m</tspan><tspan dy="-9.9" font-size="21.1">-2</tspan><tspan dy="9.9"> s</tspan><tspan dy="-9.9" font-size="21.1">-1</tspan><tspan dy="9.9">)</tspan></text>
<text transform="translate(846.5,832.6)" font-size="31" text-anchor="middle" >Light intensity</text>
<text transform="translate(846.5,869.5)" font-size="31" text-anchor="middle" >(μmol photons m<tspan dy="-9.9" font-size="21.1">-2</tspan><tspan dy="9.9"> s</tspan><tspan dy="-9.9" font-size="21.1">-1</tspan><tspan dy="9.9">)</tspan></text>
<line x1="1225.41" y1="535.76" x2="1225.41" y2="545.14" stroke="#69a614" stroke-width="3" />
<line x1="1222.21" y1="535.76" x2="1228.61" y2="535.76" stroke="#69a614" stroke-width="3" />
<line x1="1225.41" y1="561.64" x2="1225.41" y2="572.18" stroke="#69a614" stroke-width="3" />
<line x1="1222.21" y1="572.18" x2="1228.61" y2="572.18" stroke="#69a614" stroke-width="3" />
<line x1="1241.54" y1="554.56" x2="1241.54" y2="576.86" stroke="#69a614" stroke-width="3" />
<line x1="1238.34" y1="554.56" x2="1244.74" y2="554.56" stroke="#69a614" stroke-width="3" />
<line x1="1241.54" y1="593.36" x2="1241.54" y2="614.48" stroke="#69a614" stroke-width="3" />
<line x1="1238.34" y1="614.48" x2="1244.74" y2="614.48" stroke="#69a614" stroke-width="3" />
<line x1="1288.35" y1="599.20" x2="1288.35" y2="621.50" stroke="#69a614" stroke-width="3" />
<line x1="1285.15" y1="599.20" x2="1291.55" y2="599.20" stroke="#69a614" stroke-width="3" />
<line x1="1288.35" y1="638.00" x2="1288.35" y2="661.47" stroke="#69a614" stroke-width="3" />
<line x1="1285.15" y1="661.47" x2="1291.55" y2="661.47" stroke="#69a614" stroke-width="3" />
<line x1="1365.85" y1="622.70" x2="1365.85" y2="641.47" stroke="#69a614" stroke-width="3" />
<line x1="1362.65" y1="622.70" x2="1369.05" y2="622.70" stroke="#69a614" stroke-width="3" />
<line x1="1365.85" y1="657.97" x2="1365.85" y2="676.74" stroke="#69a614" stroke-width="3" />
<line x1="1362.65" y1="676.74" x2="1369.05" y2="676.74" stroke="#69a614" stroke-width="3" />
<line x1="1456.35" y1="629.75" x2="1456.35" y2="648.52" stroke="#69a614" stroke-width="3" />
<line x1="1453.15" y1="629.75" x2="1459.55" y2="629.75" stroke="#69a614" stroke-width="3" />
<line x1="1456.35" y1="665.02" x2="1456.35" y2="684.96" stroke="#69a614" stroke-width="3" />
<line x1="1453.15" y1="684.96" x2="1459.55" y2="684.96" stroke="#69a614" stroke-width="3" />
<line x1="1524.49" y1="630.92" x2="1524.49" y2="649.69" stroke="#69a614" stroke-width="3" />
<line x1="1521.29" y1="630.92" x2="1527.69" y2="630.92" stroke="#69a614" stroke-width="3" />
<line x1="1524.49" y1="666.19" x2="1524.49" y2="684.96" stroke="#69a614" stroke-width="3" />
<line x1="1521.29" y1="684.96" x2="1527.69" y2="684.96" stroke="#69a614" stroke-width="3" />
<rect x="1218.51" y="546.49" width="13.8" height="13.8" fill="none" stroke="#69a614" stroke-width="3.7" stroke-linejoin="round"/>
<rect x="1234.64" y="578.21" width="13.8" height="13.8" fill="none" stroke="#69a614" stroke-width="3.7" stroke-linejoin="round"/>
<rect x="1281.45" y="622.85" width="13.8" height="13.8" fill="none" stroke="#69a614" stroke-width="3.7" stroke-linejoin="round"/>
<rect x="1358.95" y="642.82" width="13.8" height="13.8" fill="none" stroke="#69a614" stroke-width="3.7" stroke-linejoin="round"/>
<rect x="1449.45" y="649.87" width="13.8" height="13.8" fill="none" stroke="#69a614" stroke-width="3.7" stroke-linejoin="round"/>
<rect x="1517.59" y="651.04" width="13.8" height="13.8" fill="none" stroke="#69a614" stroke-width="3.7" stroke-linejoin="round"/>
<line x1="1225.41" y1="554.56" x2="1225.41" y2="572.48" stroke="#f66c6e" stroke-width="3" />
<line x1="1222.21" y1="554.56" x2="1228.61" y2="554.56" stroke="#f66c6e" stroke-width="3" />
<line x1="1225.41" y1="590.68" x2="1225.41" y2="609.78" stroke="#f66c6e" stroke-width="3" />
<line x1="1222.21" y1="609.78" x2="1228.61" y2="609.78" stroke="#f66c6e" stroke-width="3" />
<line x1="1241.54" y1="585.11" x2="1241.54" y2="617.12" stroke="#f66c6e" stroke-width="3" />
<line x1="1238.34" y1="585.11" x2="1244.74" y2="585.11" stroke="#f66c6e" stroke-width="3" />
<line x1="1241.54" y1="635.32" x2="1241.54" y2="667.34" stroke="#f66c6e" stroke-width="3" />
<line x1="1238.34" y1="667.34" x2="1244.74" y2="667.34" stroke="#f66c6e" stroke-width="3" />
<line x1="1288.35" y1="630.92" x2="1288.35" y2="669.99" stroke="#f66c6e" stroke-width="3" />
<line x1="1285.15" y1="630.92" x2="1291.55" y2="630.92" stroke="#f66c6e" stroke-width="3" />
<line x1="1288.35" y1="688.19" x2="1288.35" y2="728.43" stroke="#f66c6e" stroke-width="3" />
<line x1="1285.15" y1="728.43" x2="1291.55" y2="728.43" stroke="#f66c6e" stroke-width="3" />
<line x1="1365.85" y1="664.99" x2="1365.85" y2="687.61" stroke="#f66c6e" stroke-width="3" />
<line x1="1362.65" y1="664.99" x2="1369.05" y2="664.99" stroke="#f66c6e" stroke-width="3" />
<line x1="1365.85" y1="705.81" x2="1365.85" y2="730.78" stroke="#f66c6e" stroke-width="3" />
<line x1="1362.65" y1="730.78" x2="1369.05" y2="730.78" stroke="#f66c6e" stroke-width="3" />
<line x1="1456.35" y1="676.74" x2="1456.35" y2="689.96" stroke="#f66c6e" stroke-width="3" />
<line x1="1453.15" y1="676.74" x2="1459.55" y2="676.74" stroke="#f66c6e" stroke-width="3" />
<line x1="1456.35" y1="708.16" x2="1456.35" y2="721.38" stroke="#f66c6e" stroke-width="3" />
<line x1="1453.15" y1="721.38" x2="1459.55" y2="721.38" stroke="#f66c6e" stroke-width="3" />
<line x1="1524.49" y1="675.57" x2="1524.49" y2="687.61" stroke="#f66c6e" stroke-width="3" />
<line x1="1521.29" y1="675.57" x2="1527.69" y2="675.57" stroke="#f66c6e" stroke-width="3" />
<line x1="1524.49" y1="705.81" x2="1524.49" y2="719.03" stroke="#f66c6e" stroke-width="3" />
<line x1="1521.29" y1="719.03" x2="1527.69" y2="719.03" stroke="#f66c6e" stroke-width="3" />
<circle cx="1225.41" cy="581.58" r="7.8" fill="none" stroke="#f66c6e" stroke-width="3.6"/>
<circle cx="1241.54" cy="626.22" r="7.8" fill="none" stroke="#f66c6e" stroke-width="3.6"/>
<circle cx="1288.35" cy="679.09" r="7.8" fill="none" stroke="#f66c6e" stroke-width="3.6"/>
<circle cx="1365.85" cy="696.71" r="7.8" fill="none" stroke="#f66c6e" stroke-width="3.6"/>
<circle cx="1456.35" cy="699.06" r="7.8" fill="none" stroke="#f66c6e" stroke-width="3.6"/>
<circle cx="1524.49" cy="696.71" r="7.8" fill="none" stroke="#f66c6e" stroke-width="3.6"/>
<rect x="1186.4" y="473.5" width="364.1" height="293.7" fill="none" stroke="#000" stroke-width="2.3"/>
<line x1="1186.40" y1="767.20" x2="1192.40" y2="767.20" stroke="#000" stroke-width="2.2" />
<line x1="1550.50" y1="767.20" x2="1544.50" y2="767.20" stroke="#000" stroke-width="2.2" />
<text transform="translate(1180.2,777.2) scale(0.975,1.03)" font-size="33.8" text-anchor="end" >200</text>
<line x1="1186.40" y1="708.46" x2="1192.40" y2="708.46" stroke="#000" stroke-width="2.2" />
<line x1="1550.50" y1="708.46" x2="1544.50" y2="708.46" stroke="#000" stroke-width="2.2" />
<text transform="translate(1180.2,718.5) scale(0.975,1.03)" font-size="33.8" text-anchor="end" >250</text>
<line x1="1186.40" y1="649.72" x2="1192.40" y2="649.72" stroke="#000" stroke-width="2.2" />
<line x1="1550.50" y1="649.72" x2="1544.50" y2="649.72" stroke="#000" stroke-width="2.2" />
<text transform="translate(1180.2,659.7) scale(0.975,1.03)" font-size="33.8" text-anchor="end" >300</text>
<line x1="1186.40" y1="590.98" x2="1192.40" y2="590.98" stroke="#000" stroke-width="2.2" />
<line x1="1550.50" y1="590.98" x2="1544.50" y2="590.98" stroke="#000" stroke-width="2.2" />
<text transform="translate(1180.2,601.0) scale(0.975,1.03)" font-size="33.8" text-anchor="end" >350</text>
<line x1="1186.40" y1="532.24" x2="1192.40" y2="532.24" stroke="#000" stroke-width="2.2" />
<line x1="1550.50" y1="532.24" x2="1544.50" y2="532.24" stroke="#000" stroke-width="2.2" />
<text transform="translate(1180.2,542.2) scale(0.975,1.03)" font-size="33.8" text-anchor="end" >400</text>
<line x1="1186.40" y1="473.50" x2="1192.40" y2="473.50" stroke="#000" stroke-width="2.2" />
<line x1="1550.50" y1="473.50" x2="1544.50" y2="473.50" stroke="#000" stroke-width="2.2" />
<text transform="translate(1180.2,483.5) scale(0.975,1.03)" font-size="33.8" text-anchor="end" >450</text>
<line x1="1186.40" y1="737.83" x2="1189.90" y2="737.83" stroke="#000" stroke-width="2.2" />
<line x1="1550.50" y1="737.83" x2="1547.00" y2="737.83" stroke="#000" stroke-width="2.2" />
<line x1="1186.40" y1="679.09" x2="1189.90" y2="679.09" stroke="#000" stroke-width="2.2" />
<line x1="1550.50" y1="679.09" x2="1547.00" y2="679.09" stroke="#000" stroke-width="2.2" />
<line x1="1186.40" y1="620.35" x2="1189.90" y2="620.35" stroke="#000" stroke-width="2.2" />
<line x1="1550.50" y1="620.35" x2="1547.00" y2="620.35" stroke="#000" stroke-width="2.2" />
<line x1="1186.40" y1="561.61" x2="1189.90" y2="561.61" stroke="#000" stroke-width="2.2" />
<line x1="1550.50" y1="561.61" x2="1547.00" y2="561.61" stroke="#000" stroke-width="2.2" />
<line x1="1186.40" y1="502.87" x2="1189.90" y2="502.87" stroke="#000" stroke-width="2.2" />
<line x1="1550.50" y1="502.87" x2="1547.00" y2="502.87" stroke="#000" stroke-width="2.2" />
<line x1="1212.41" y1="767.20" x2="1212.41" y2="761.20" stroke="#000" stroke-width="2.2" />
<line x1="1212.41" y1="473.50" x2="1212.41" y2="479.50" stroke="#000" stroke-width="2.2" />
<text transform="translate(1212.4,799.8) scale(0.975,1.03)" font-size="33.8" text-anchor="middle" >0</text>
<line x1="1290.43" y1="767.20" x2="1290.43" y2="761.20" stroke="#000" stroke-width="2.2" />
<line x1="1290.43" y1="473.50" x2="1290.43" y2="479.50" stroke="#000" stroke-width="2.2" />
<text transform="translate(1290.4,799.8) scale(0.975,1.03)" font-size="33.8" text-anchor="middle" >300</text>
<line x1="1368.45" y1="767.20" x2="1368.45" y2="761.20" stroke="#000" stroke-width="2.2" />
<line x1="1368.45" y1="473.50" x2="1368.45" y2="479.50" stroke="#000" stroke-width="2.2" />
<text transform="translate(1368.5,799.8) scale(0.975,1.03)" font-size="33.8" text-anchor="middle" >600</text>
<line x1="1446.47" y1="767.20" x2="1446.47" y2="761.20" stroke="#000" stroke-width="2.2" />
<line x1="1446.47" y1="473.50" x2="1446.47" y2="479.50" stroke="#000" stroke-width="2.2" />
<text transform="translate(1446.5,799.8) scale(0.975,1.03)" font-size="33.8" text-anchor="middle" >900</text>
<line x1="1524.49" y1="767.20" x2="1524.49" y2="761.20" stroke="#000" stroke-width="2.2" />
<line x1="1524.49" y1="473.50" x2="1524.49" y2="479.50" stroke="#000" stroke-width="2.2" />
<text transform="translate(1524.5,799.8) scale(0.975,1.03)" font-size="33.8" text-anchor="middle" >1200</text>
<line x1="1251.42" y1="767.20" x2="1251.42" y2="763.70" stroke="#000" stroke-width="2.2" />
<line x1="1251.42" y1="473.50" x2="1251.42" y2="477.00" stroke="#000" stroke-width="2.2" />
<line x1="1329.44" y1="767.20" x2="1329.44" y2="763.70" stroke="#000" stroke-width="2.2" />
<line x1="1329.44" y1="473.50" x2="1329.44" y2="477.00" stroke="#000" stroke-width="2.2" />
<line x1="1407.46" y1="767.20" x2="1407.46" y2="763.70" stroke="#000" stroke-width="2.2" />
<line x1="1407.46" y1="473.50" x2="1407.46" y2="477.00" stroke="#000" stroke-width="2.2" />
<line x1="1485.48" y1="767.20" x2="1485.48" y2="763.70" stroke="#000" stroke-width="2.2" />
<line x1="1485.48" y1="473.50" x2="1485.48" y2="477.00" stroke="#000" stroke-width="2.2" />
<text transform="translate(1228.9,530.1)" font-size="30" text-anchor="middle" >*</text>
<text transform="translate(1246.1,554.1)" font-size="30" text-anchor="middle" >*</text>
<text transform="translate(1366.0,616.9)" font-size="30" text-anchor="middle" >*</text>
<text transform="translate(1454.4,625.9)" font-size="30" text-anchor="middle" >*</text>
<text transform="translate(1521.9,628.1)" font-size="30" text-anchor="middle" >*</text>
<text transform="translate(1192.6,507.0)" font-size="31" text-anchor="start" >(f)</text>
<text transform="translate(1070.3,618.6) rotate(-90)" font-size="31" text-anchor="middle" >Ci</text>
<text transform="translate(1107.4,617.8) rotate(-90)" font-size="31" text-anchor="middle" >(μmol mol<tspan dy="-9.9" font-size="21.1">-1</tspan><tspan dy="9.9">)</tspan></text>
<text transform="translate(1366.7,829.7)" font-size="31" text-anchor="middle" >Light intensity</text>
<text transform="translate(1366.7,866.5)" font-size="31" text-anchor="middle" >(μmol photons m<tspan dy="-9.9" font-size="21.1">-2</tspan><tspan dy="9.9"> s</tspan><tspan dy="-9.9" font-size="21.1">-1</tspan><tspan dy="9.9">)</tspan></text>
<line x1="163.74" y1="982.86" x2="163.74" y2="987.43" stroke="#69a614" stroke-width="3" />
<line x1="160.54" y1="982.86" x2="166.94" y2="982.86" stroke="#69a614" stroke-width="3" />
<line x1="163.74" y1="1003.93" x2="163.74" y2="1006.67" stroke="#69a614" stroke-width="3" />
<line x1="160.54" y1="1006.67" x2="166.94" y2="1006.67" stroke="#69a614" stroke-width="3" />
<line x1="179.88" y1="990.19" x2="179.88" y2="991.10" stroke="#69a614" stroke-width="3" />
<line x1="176.68" y1="990.19" x2="183.08" y2="990.19" stroke="#69a614" stroke-width="3" />
<line x1="179.88" y1="1007.60" x2="179.88" y2="1010.34" stroke="#69a614" stroke-width="3" />
<line x1="176.68" y1="1010.34" x2="183.08" y2="1010.34" stroke="#69a614" stroke-width="3" />
<line x1="226.73" y1="997.52" x2="226.73" y2="1007.58" stroke="#69a614" stroke-width="3" />
<line x1="223.53" y1="997.52" x2="229.93" y2="997.52" stroke="#69a614" stroke-width="3" />
<line x1="226.73" y1="1024.08" x2="226.73" y2="1030.49" stroke="#69a614" stroke-width="3" />
<line x1="223.53" y1="1030.49" x2="229.93" y2="1030.49" stroke="#69a614" stroke-width="3" />
<line x1="304.30" y1="1035.98" x2="304.30" y2="1042.39" stroke="#69a614" stroke-width="3" />
<line x1="301.10" y1="1035.98" x2="307.50" y2="1035.98" stroke="#69a614" stroke-width="3" />
<line x1="304.30" y1="1058.89" x2="304.30" y2="1063.46" stroke="#69a614" stroke-width="3" />
<line x1="301.10" y1="1063.46" x2="307.50" y2="1063.46" stroke="#69a614" stroke-width="3" />
<rect x="156.84" y="988.78" width="13.8" height="13.8" fill="none" stroke="#69a614" stroke-width="3.7" stroke-linejoin="round"/>
<rect x="172.98" y="992.45" width="13.8" height="13.8" fill="none" stroke="#69a614" stroke-width="3.7" stroke-linejoin="round"/>
<rect x="219.83" y="1008.93" width="13.8" height="13.8" fill="none" stroke="#69a614" stroke-width="3.7" stroke-linejoin="round"/>
<rect x="297.40" y="1043.74" width="13.8" height="13.8" fill="none" stroke="#69a614" stroke-width="3.7" stroke-linejoin="round"/>
<rect x="387.98" y="1089.54" width="13.8" height="13.8" fill="none" stroke="#69a614" stroke-width="3.7" stroke-linejoin="round"/>
<rect x="456.17" y="1104.19" width="13.8" height="13.8" fill="none" stroke="#69a614" stroke-width="3.7" stroke-linejoin="round"/>
<line x1="163.74" y1="1008.45" x2="163.74" y2="1010.34" stroke="#f66c6e" stroke-width="3" />
<line x1="160.54" y1="1010.34" x2="166.94" y2="1010.34" stroke="#f66c6e" stroke-width="3" />
<line x1="226.73" y1="997.52" x2="226.73" y2="1023.22" stroke="#f66c6e" stroke-width="3" />
<line x1="223.53" y1="997.52" x2="229.93" y2="997.52" stroke="#f66c6e" stroke-width="3" />
<line x1="226.73" y1="1041.42" x2="226.73" y2="1068.96" stroke="#f66c6e" stroke-width="3" />
<line x1="223.53" y1="1068.96" x2="229.93" y2="1068.96" stroke="#f66c6e" stroke-width="3" />
<line x1="304.30" y1="1052.47" x2="304.30" y2="1054.36" stroke="#f66c6e" stroke-width="3" />
<line x1="301.10" y1="1052.47" x2="307.50" y2="1052.47" stroke="#f66c6e" stroke-width="3" />
<circle cx="163.74" cy="999.35" r="7.8" fill="none" stroke="#f66c6e" stroke-width="3.6"/>
<circle cx="179.88" cy="1003.01" r="7.8" fill="none" stroke="#f66c6e" stroke-width="3.6"/>
<circle cx="226.73" cy="1032.32" r="7.8" fill="none" stroke="#f66c6e" stroke-width="3.6"/>
<circle cx="304.30" cy="1063.46" r="7.8" fill="none" stroke="#f66c6e" stroke-width="3.6"/>
<circle cx="394.88" cy="1105.60" r="7.8" fill="none" stroke="#f66c6e" stroke-width="3.6"/>
<circle cx="463.07" cy="1122.08" r="7.8" fill="none" stroke="#f66c6e" stroke-width="3.6"/>
<rect x="124.7" y="933.4" width="364.4" height="293.1" fill="none" stroke="#000" stroke-width="2.3"/>
<line x1="124.70" y1="1226.50" x2="130.70" y2="1226.50" stroke="#000" stroke-width="2.2" />
<line x1="489.10" y1="1226.50" x2="483.10" y2="1226.50" stroke="#000" stroke-width="2.2" />
<text transform="translate(118.5,1236.5) scale(0.975,1.03)" font-size="33.8" text-anchor="end" >0.0</text>
<line x1="124.70" y1="1153.22" x2="130.70" y2="1153.22" stroke="#000" stroke-width="2.2" />
<line x1="489.10" y1="1153.22" x2="483.10" y2="1153.22" stroke="#000" stroke-width="2.2" />
<text transform="translate(118.5,1163.2) scale(0.975,1.03)" font-size="33.8" text-anchor="end" >0.2</text>
<line x1="124.70" y1="1079.95" x2="130.70" y2="1079.95" stroke="#000" stroke-width="2.2" />
<line x1="489.10" y1="1079.95" x2="483.10" y2="1079.95" stroke="#000" stroke-width="2.2" />
<text transform="translate(118.5,1090.0) scale(0.975,1.03)" font-size="33.8" text-anchor="end" >0.4</text>
<line x1="124.70" y1="1006.67" x2="130.70" y2="1006.67" stroke="#000" stroke-width="2.2" />
<line x1="489.10" y1="1006.67" x2="483.10" y2="1006.67" stroke="#000" stroke-width="2.2" />
<text transform="translate(118.5,1016.7) scale(0.975,1.03)" font-size="33.8" text-anchor="end" >0.6</text>
<line x1="124.70" y1="933.40" x2="130.70" y2="933.40" stroke="#000" stroke-width="2.2" />
<line x1="489.10" y1="933.40" x2="483.10" y2="933.40" stroke="#000" stroke-width="2.2" />
<text transform="translate(118.5,943.4) scale(0.975,1.03)" font-size="33.8" text-anchor="end" >0.8</text>
<line x1="124.70" y1="1189.86" x2="128.20" y2="1189.86" stroke="#000" stroke-width="2.2" />
<line x1="489.10" y1="1189.86" x2="485.60" y2="1189.86" stroke="#000" stroke-width="2.2" />
<line x1="124.70" y1="1116.59" x2="128.20" y2="1116.59" stroke="#000" stroke-width="2.2" />
<line x1="489.10" y1="1116.59" x2="485.60" y2="1116.59" stroke="#000" stroke-width="2.2" />
<line x1="124.70" y1="1043.31" x2="128.20" y2="1043.31" stroke="#000" stroke-width="2.2" />
<line x1="489.10" y1="1043.31" x2="485.60" y2="1043.31" stroke="#000" stroke-width="2.2" />
<line x1="124.70" y1="970.04" x2="128.20" y2="970.04" stroke="#000" stroke-width="2.2" />
<line x1="489.10" y1="970.04" x2="485.60" y2="970.04" stroke="#000" stroke-width="2.2" />
<line x1="150.73" y1="1226.50" x2="150.73" y2="1220.50" stroke="#000" stroke-width="2.2" />
<line x1="150.73" y1="933.40" x2="150.73" y2="939.40" stroke="#000" stroke-width="2.2" />
<text transform="translate(150.7,1259.1) scale(0.975,1.03)" font-size="33.8" text-anchor="middle" >0</text>
<line x1="228.81" y1="1226.50" x2="228.81" y2="1220.50" stroke="#000" stroke-width="2.2" />
<line x1="228.81" y1="933.40" x2="228.81" y2="939.40" stroke="#000" stroke-width="2.2" />
<text transform="translate(228.8,1259.1) scale(0.975,1.03)" font-size="33.8" text-anchor="middle" >300</text>
<line x1="306.90" y1="1226.50" x2="306.90" y2="1220.50" stroke="#000" stroke-width="2.2" />
<line x1="306.90" y1="933.40" x2="306.90" y2="939.40" stroke="#000" stroke-width="2.2" />
<text transform="translate(306.9,1259.1) scale(0.975,1.03)" font-size="33.8" text-anchor="middle" >600</text>
<line x1="384.99" y1="1226.50" x2="384.99" y2="1220.50" stroke="#000" stroke-width="2.2" />
<line x1="384.99" y1="933.40" x2="384.99" y2="939.40" stroke="#000" stroke-width="2.2" />
<text transform="translate(385.0,1259.1) scale(0.975,1.03)" font-size="33.8" text-anchor="middle" >900</text>
<line x1="463.07" y1="1226.50" x2="463.07" y2="1220.50" stroke="#000" stroke-width="2.2" />
<line x1="463.07" y1="933.40" x2="463.07" y2="939.40" stroke="#000" stroke-width="2.2" />
<text transform="translate(463.1,1259.1) scale(0.975,1.03)" font-size="33.8" text-anchor="middle" >1200</text>
<line x1="189.77" y1="1226.50" x2="189.77" y2="1223.00" stroke="#000" stroke-width="2.2" />
<line x1="189.77" y1="933.40" x2="189.77" y2="936.90" stroke="#000" stroke-width="2.2" />
<line x1="267.86" y1="1226.50" x2="267.86" y2="1223.00" stroke="#000" stroke-width="2.2" />
<line x1="267.86" y1="933.40" x2="267.86" y2="936.90" stroke="#000" stroke-width="2.2" />
<line x1="345.94" y1="1226.50" x2="345.94" y2="1223.00" stroke="#000" stroke-width="2.2" />
<line x1="345.94" y1="933.40" x2="345.94" y2="936.90" stroke="#000" stroke-width="2.2" />
<line x1="424.03" y1="1226.50" x2="424.03" y2="1223.00" stroke="#000" stroke-width="2.2" />
<line x1="424.03" y1="933.40" x2="424.03" y2="936.90" stroke="#000" stroke-width="2.2" />
<text transform="translate(394.9,1081.2)" font-size="30" text-anchor="middle" >*</text>
<text transform="translate(463.1,1098.5)" font-size="30" text-anchor="middle" >*</text>
<text transform="translate(139.0,973.0)" font-size="31" text-anchor="start" >(g)</text>
<text transform="translate(36.9,1094.5) rotate(-90)" font-size="31" text-anchor="middle" >Y(II)</text>
<text transform="translate(316.5,1295.5)" font-size="31" text-anchor="middle" >Light intensity</text>
<text transform="translate(316.5,1332.6)" font-size="31" text-anchor="middle" >(μmol photons m<tspan dy="-9.9" font-size="21.1">-2</tspan><tspan dy="9.9"> s</tspan><tspan dy="-9.9" font-size="21.1">-1</tspan><tspan dy="9.9">)</tspan></text>
<line x1="690.19" y1="1157.37" x2="690.19" y2="1167.42" stroke="#69a614" stroke-width="3" />
<line x1="686.99" y1="1157.37" x2="693.39" y2="1157.37" stroke="#69a614" stroke-width="3" />
<line x1="690.19" y1="1183.92" x2="690.19" y2="1192.15" stroke="#69a614" stroke-width="3" />
<line x1="686.99" y1="1192.15" x2="693.39" y2="1192.15" stroke="#69a614" stroke-width="3" />
<line x1="706.30" y1="1157.37" x2="706.30" y2="1167.42" stroke="#69a614" stroke-width="3" />
<line x1="703.10" y1="1157.37" x2="709.50" y2="1157.37" stroke="#69a614" stroke-width="3" />
<line x1="706.30" y1="1183.92" x2="706.30" y2="1192.15" stroke="#69a614" stroke-width="3" />
<line x1="703.10" y1="1192.15" x2="709.50" y2="1192.15" stroke="#69a614" stroke-width="3" />
<line x1="753.09" y1="1155.54" x2="753.09" y2="1160.10" stroke="#69a614" stroke-width="3" />
<line x1="749.89" y1="1155.54" x2="756.29" y2="1155.54" stroke="#69a614" stroke-width="3" />
<line x1="753.09" y1="1176.60" x2="753.09" y2="1181.16" stroke="#69a614" stroke-width="3" />
<line x1="749.89" y1="1181.16" x2="756.29" y2="1181.16" stroke="#69a614" stroke-width="3" />
<line x1="830.55" y1="1122.59" x2="830.55" y2="1134.47" stroke="#69a614" stroke-width="3" />
<line x1="827.35" y1="1122.59" x2="833.75" y2="1122.59" stroke="#69a614" stroke-width="3" />
<line x1="830.55" y1="1150.97" x2="830.55" y2="1159.20" stroke="#69a614" stroke-width="3" />
<line x1="827.35" y1="1159.20" x2="833.75" y2="1159.20" stroke="#69a614" stroke-width="3" />
<line x1="921.01" y1="1078.65" x2="921.01" y2="1085.05" stroke="#69a614" stroke-width="3" />
<line x1="917.81" y1="1078.65" x2="924.21" y2="1078.65" stroke="#69a614" stroke-width="3" />
<line x1="921.01" y1="1101.55" x2="921.01" y2="1106.11" stroke="#69a614" stroke-width="3" />
<line x1="917.81" y1="1106.11" x2="924.21" y2="1106.11" stroke="#69a614" stroke-width="3" />
<line x1="989.11" y1="1060.34" x2="989.11" y2="1064.91" stroke="#69a614" stroke-width="3" />
<line x1="985.91" y1="1060.34" x2="992.31" y2="1060.34" stroke="#69a614" stroke-width="3" />
<line x1="989.11" y1="1081.41" x2="989.11" y2="1085.97" stroke="#69a614" stroke-width="3" />
<line x1="985.91" y1="1085.97" x2="992.31" y2="1085.97" stroke="#69a614" stroke-width="3" />
<rect x="683.29" y="1168.77" width="13.8" height="13.8" fill="none" stroke="#69a614" stroke-width="3.7" stroke-linejoin="round"/>
<rect x="699.40" y="1168.77" width="13.8" height="13.8" fill="none" stroke="#69a614" stroke-width="3.7" stroke-linejoin="round"/>
<rect x="746.19" y="1161.45" width="13.8" height="13.8" fill="none" stroke="#69a614" stroke-width="3.7" stroke-linejoin="round"/>
<rect x="823.65" y="1135.82" width="13.8" height="13.8" fill="none" stroke="#69a614" stroke-width="3.7" stroke-linejoin="round"/>
<rect x="914.11" y="1086.39" width="13.8" height="13.8" fill="none" stroke="#69a614" stroke-width="3.7" stroke-linejoin="round"/>
<rect x="982.21" y="1066.26" width="13.8" height="13.8" fill="none" stroke="#69a614" stroke-width="3.7" stroke-linejoin="round"/>
<line x1="690.19" y1="1159.20" x2="690.19" y2="1168.40" stroke="#f66c6e" stroke-width="3" />
<line x1="686.99" y1="1159.20" x2="693.39" y2="1159.20" stroke="#f66c6e" stroke-width="3" />
<line x1="690.19" y1="1186.60" x2="690.19" y2="1190.32" stroke="#f66c6e" stroke-width="3" />
<line x1="686.99" y1="1190.32" x2="693.39" y2="1190.32" stroke="#f66c6e" stroke-width="3" />
<line x1="706.30" y1="1159.20" x2="706.30" y2="1168.40" stroke="#f66c6e" stroke-width="3" />
<line x1="703.10" y1="1159.20" x2="709.50" y2="1159.20" stroke="#f66c6e" stroke-width="3" />
<line x1="706.30" y1="1186.60" x2="706.30" y2="1190.32" stroke="#f66c6e" stroke-width="3" />
<line x1="703.10" y1="1190.32" x2="709.50" y2="1190.32" stroke="#f66c6e" stroke-width="3" />
<line x1="753.09" y1="1144.55" x2="753.09" y2="1157.42" stroke="#f66c6e" stroke-width="3" />
<line x1="749.89" y1="1144.55" x2="756.29" y2="1144.55" stroke="#f66c6e" stroke-width="3" />
<line x1="753.09" y1="1175.62" x2="753.09" y2="1190.32" stroke="#f66c6e" stroke-width="3" />
<line x1="749.89" y1="1190.32" x2="756.29" y2="1190.32" stroke="#f66c6e" stroke-width="3" />
<line x1="830.55" y1="1113.43" x2="830.55" y2="1124.47" stroke="#f66c6e" stroke-width="3" />
<line x1="827.35" y1="1113.43" x2="833.75" y2="1113.43" stroke="#f66c6e" stroke-width="3" />
<line x1="830.55" y1="1142.67" x2="830.55" y2="1155.54" stroke="#f66c6e" stroke-width="3" />
<line x1="827.35" y1="1155.54" x2="833.75" y2="1155.54" stroke="#f66c6e" stroke-width="3" />
<line x1="921.01" y1="1069.50" x2="921.01" y2="1078.70" stroke="#f66c6e" stroke-width="3" />
<line x1="917.81" y1="1069.50" x2="924.21" y2="1069.50" stroke="#f66c6e" stroke-width="3" />
<line x1="921.01" y1="1096.90" x2="921.01" y2="1104.28" stroke="#f66c6e" stroke-width="3" />
<line x1="917.81" y1="1104.28" x2="924.21" y2="1104.28" stroke="#f66c6e" stroke-width="3" />
<line x1="989.11" y1="1049.36" x2="989.11" y2="1060.40" stroke="#f66c6e" stroke-width="3" />
<line x1="985.91" y1="1049.36" x2="992.31" y2="1049.36" stroke="#f66c6e" stroke-width="3" />
<line x1="989.11" y1="1078.60" x2="989.11" y2="1087.80" stroke="#f66c6e" stroke-width="3" />
<line x1="985.91" y1="1087.80" x2="992.31" y2="1087.80" stroke="#f66c6e" stroke-width="3" />
<circle cx="690.19" cy="1177.50" r="7.8" fill="none" stroke="#f66c6e" stroke-width="3.6"/>
<circle cx="706.30" cy="1177.50" r="7.8" fill="none" stroke="#f66c6e" stroke-width="3.6"/>
<circle cx="753.09" cy="1166.52" r="7.8" fill="none" stroke="#f66c6e" stroke-width="3.6"/>
<circle cx="830.55" cy="1133.57" r="7.8" fill="none" stroke="#f66c6e" stroke-width="3.6"/>
<circle cx="921.01" cy="1087.80" r="7.8" fill="none" stroke="#f66c6e" stroke-width="3.6"/>
<circle cx="989.11" cy="1069.50" r="7.8" fill="none" stroke="#f66c6e" stroke-width="3.6"/>
<rect x="651.2" y="932.2" width="363.9" height="292.9" fill="none" stroke="#000" stroke-width="2.3"/>
<line x1="651.20" y1="1225.10" x2="657.20" y2="1225.10" stroke="#000" stroke-width="2.2" />
<line x1="1015.10" y1="1225.10" x2="1009.10" y2="1225.10" stroke="#000" stroke-width="2.2" />
<text transform="translate(645.0,1235.1) scale(0.975,1.03)" font-size="33.8" text-anchor="end" >0.0</text>
<line x1="651.20" y1="1151.88" x2="657.20" y2="1151.88" stroke="#000" stroke-width="2.2" />
<line x1="1015.10" y1="1151.88" x2="1009.10" y2="1151.88" stroke="#000" stroke-width="2.2" />
<text transform="translate(645.0,1161.9) scale(0.975,1.03)" font-size="33.8" text-anchor="end" >0.2</text>
<line x1="651.20" y1="1078.65" x2="657.20" y2="1078.65" stroke="#000" stroke-width="2.2" />
<line x1="1015.10" y1="1078.65" x2="1009.10" y2="1078.65" stroke="#000" stroke-width="2.2" />
<text transform="translate(645.0,1088.7) scale(0.975,1.03)" font-size="33.8" text-anchor="end" >0.4</text>
<line x1="651.20" y1="1005.43" x2="657.20" y2="1005.43" stroke="#000" stroke-width="2.2" />
<line x1="1015.10" y1="1005.43" x2="1009.10" y2="1005.43" stroke="#000" stroke-width="2.2" />
<text transform="translate(645.0,1015.4) scale(0.975,1.03)" font-size="33.8" text-anchor="end" >0.6</text>
<line x1="651.20" y1="932.20" x2="657.20" y2="932.20" stroke="#000" stroke-width="2.2" />
<line x1="1015.10" y1="932.20" x2="1009.10" y2="932.20" stroke="#000" stroke-width="2.2" />
<text transform="translate(645.0,942.2) scale(0.975,1.03)" font-size="33.8" text-anchor="end" >0.8</text>
<line x1="651.20" y1="1188.49" x2="654.70" y2="1188.49" stroke="#000" stroke-width="2.2" />
<line x1="1015.10" y1="1188.49" x2="1011.60" y2="1188.49" stroke="#000" stroke-width="2.2" />
<line x1="651.20" y1="1115.26" x2="654.70" y2="1115.26" stroke="#000" stroke-width="2.2" />
<line x1="1015.10" y1="1115.26" x2="1011.60" y2="1115.26" stroke="#000" stroke-width="2.2" />
<line x1="651.20" y1="1042.04" x2="654.70" y2="1042.04" stroke="#000" stroke-width="2.2" />
<line x1="1015.10" y1="1042.04" x2="1011.60" y2="1042.04" stroke="#000" stroke-width="2.2" />
<line x1="651.20" y1="968.81" x2="654.70" y2="968.81" stroke="#000" stroke-width="2.2" />
<line x1="1015.10" y1="968.81" x2="1011.60" y2="968.81" stroke="#000" stroke-width="2.2" />
<line x1="677.19" y1="1225.10" x2="677.19" y2="1219.10" stroke="#000" stroke-width="2.2" />
<line x1="677.19" y1="932.20" x2="677.19" y2="938.20" stroke="#000" stroke-width="2.2" />
<text transform="translate(677.2,1257.7) scale(0.975,1.03)" font-size="33.8" text-anchor="middle" >0</text>
<line x1="755.17" y1="1225.10" x2="755.17" y2="1219.10" stroke="#000" stroke-width="2.2" />
<line x1="755.17" y1="932.20" x2="755.17" y2="938.20" stroke="#000" stroke-width="2.2" />
<text transform="translate(755.2,1257.7) scale(0.975,1.03)" font-size="33.8" text-anchor="middle" >300</text>
<line x1="833.15" y1="1225.10" x2="833.15" y2="1219.10" stroke="#000" stroke-width="2.2" />
<line x1="833.15" y1="932.20" x2="833.15" y2="938.20" stroke="#000" stroke-width="2.2" />
<text transform="translate(833.2,1257.7) scale(0.975,1.03)" font-size="33.8" text-anchor="middle" >600</text>
<line x1="911.13" y1="1225.10" x2="911.13" y2="1219.10" stroke="#000" stroke-width="2.2" />
<line x1="911.13" y1="932.20" x2="911.13" y2="938.20" stroke="#000" stroke-width="2.2" />
<text transform="translate(911.1,1257.7) scale(0.975,1.03)" font-size="33.8" text-anchor="middle" >900</text>
<line x1="989.11" y1="1225.10" x2="989.11" y2="1219.10" stroke="#000" stroke-width="2.2" />
<line x1="989.11" y1="932.20" x2="989.11" y2="938.20" stroke="#000" stroke-width="2.2" />
<text transform="translate(989.1,1257.7) scale(0.975,1.03)" font-size="33.8" text-anchor="middle" >1200</text>
<line x1="716.18" y1="1225.10" x2="716.18" y2="1221.60" stroke="#000" stroke-width="2.2" />
<line x1="716.18" y1="932.20" x2="716.18" y2="935.70" stroke="#000" stroke-width="2.2" />
<line x1="794.16" y1="1225.10" x2="794.16" y2="1221.60" stroke="#000" stroke-width="2.2" />
<line x1="794.16" y1="932.20" x2="794.16" y2="935.70" stroke="#000" stroke-width="2.2" />
<line x1="872.14" y1="1225.10" x2="872.14" y2="1221.60" stroke="#000" stroke-width="2.2" />
<line x1="872.14" y1="932.20" x2="872.14" y2="935.70" stroke="#000" stroke-width="2.2" />
<line x1="950.12" y1="1225.10" x2="950.12" y2="1221.60" stroke="#000" stroke-width="2.2" />
<line x1="950.12" y1="932.20" x2="950.12" y2="935.70" stroke="#000" stroke-width="2.2" />
<text transform="translate(664.0,969.5)" font-size="31" text-anchor="start" >(h)</text>
<text transform="translate(567.1,1078.0) rotate(-90)" font-size="31" text-anchor="middle" >Y(NPQ)</text>
<text transform="translate(834.6,1294.5)" font-size="31" text-anchor="middle" >Light intensity</text>
<text transform="translate(834.6,1331.4)" font-size="31" text-anchor="middle" >(μmol photons m<tspan dy="-9.9" font-size="21.1">-2</tspan><tspan dy="9.9"> s</tspan><tspan dy="-9.9" font-size="21.1">-1</tspan><tspan dy="9.9">)</tspan></text>
<rect x="1218.20" y="1132.38" width="13.8" height="13.8" fill="none" stroke="#69a614" stroke-width="3.7" stroke-linejoin="round"/>
<rect x="1234.32" y="1128.72" width="13.8" height="13.8" fill="none" stroke="#69a614" stroke-width="3.7" stroke-linejoin="round"/>
<rect x="1281.12" y="1119.54" width="13.8" height="13.8" fill="none" stroke="#69a614" stroke-width="3.7" stroke-linejoin="round"/>
<rect x="1358.60" y="1114.04" width="13.8" height="13.8" fill="none" stroke="#69a614" stroke-width="3.7" stroke-linejoin="round"/>
<rect x="1449.08" y="1115.88" width="13.8" height="13.8" fill="none" stroke="#69a614" stroke-width="3.7" stroke-linejoin="round"/>
<rect x="1517.20" y="1119.54" width="13.8" height="13.8" fill="none" stroke="#69a614" stroke-width="3.7" stroke-linejoin="round"/>
<line x1="1288.02" y1="1089.76" x2="1288.02" y2="1102.67" stroke="#f66c6e" stroke-width="3" />
<line x1="1284.82" y1="1089.76" x2="1291.22" y2="1089.76" stroke="#f66c6e" stroke-width="3" />
<line x1="1288.02" y1="1120.87" x2="1288.02" y2="1130.11" stroke="#f66c6e" stroke-width="3" />
<line x1="1284.82" y1="1130.11" x2="1291.22" y2="1130.11" stroke="#f66c6e" stroke-width="3" />
<line x1="1365.50" y1="1102.60" x2="1365.50" y2="1104.50" stroke="#f66c6e" stroke-width="3" />
<line x1="1362.30" y1="1102.60" x2="1368.70" y2="1102.60" stroke="#f66c6e" stroke-width="3" />
<line x1="1455.98" y1="1106.27" x2="1455.98" y2="1110.01" stroke="#f66c6e" stroke-width="3" />
<line x1="1452.78" y1="1106.27" x2="1459.18" y2="1106.27" stroke="#f66c6e" stroke-width="3" />
<line x1="1455.98" y1="1128.21" x2="1455.98" y2="1130.11" stroke="#f66c6e" stroke-width="3" />
<line x1="1452.78" y1="1130.11" x2="1459.18" y2="1130.11" stroke="#f66c6e" stroke-width="3" />
<line x1="1524.10" y1="1108.10" x2="1524.10" y2="1111.84" stroke="#f66c6e" stroke-width="3" />
<line x1="1520.90" y1="1108.10" x2="1527.30" y2="1108.10" stroke="#f66c6e" stroke-width="3" />
<line x1="1524.10" y1="1130.04" x2="1524.10" y2="1133.78" stroke="#f66c6e" stroke-width="3" />
<line x1="1520.90" y1="1133.78" x2="1527.30" y2="1133.78" stroke="#f66c6e" stroke-width="3" />
<circle cx="1225.10" cy="1131.95" r="7.8" fill="none" stroke="#f66c6e" stroke-width="3.6"/>
<circle cx="1241.22" cy="1128.28" r="7.8" fill="none" stroke="#f66c6e" stroke-width="3.6"/>
<circle cx="1288.02" cy="1111.77" r="7.8" fill="none" stroke="#f66c6e" stroke-width="3.6"/>
<circle cx="1365.50" cy="1113.60" r="7.8" fill="none" stroke="#f66c6e" stroke-width="3.6"/>
<circle cx="1455.98" cy="1119.11" r="7.8" fill="none" stroke="#f66c6e" stroke-width="3.6"/>
<circle cx="1524.10" cy="1120.94" r="7.8" fill="none" stroke="#f66c6e" stroke-width="3.6"/>
<rect x="1186.1" y="932.0" width="364.0" height="293.5" fill="none" stroke="#000" stroke-width="2.3"/>
<line x1="1186.10" y1="1225.50" x2="1192.10" y2="1225.50" stroke="#000" stroke-width="2.2" />
<line x1="1550.10" y1="1225.50" x2="1544.10" y2="1225.50" stroke="#000" stroke-width="2.2" />
<text transform="translate(1179.9,1235.5) scale(0.975,1.03)" font-size="33.8" text-anchor="end" >0.0</text>
<line x1="1186.10" y1="1152.12" x2="1192.10" y2="1152.12" stroke="#000" stroke-width="2.2" />
<line x1="1550.10" y1="1152.12" x2="1544.10" y2="1152.12" stroke="#000" stroke-width="2.2" />
<text transform="translate(1179.9,1162.1) scale(0.975,1.03)" font-size="33.8" text-anchor="end" >0.2</text>
<line x1="1186.10" y1="1078.75" x2="1192.10" y2="1078.75" stroke="#000" stroke-width="2.2" />
<line x1="1550.10" y1="1078.75" x2="1544.10" y2="1078.75" stroke="#000" stroke-width="2.2" />
<text transform="translate(1179.9,1088.8) scale(0.975,1.03)" font-size="33.8" text-anchor="end" >0.4</text>
<line x1="1186.10" y1="1005.38" x2="1192.10" y2="1005.38" stroke="#000" stroke-width="2.2" />
<line x1="1550.10" y1="1005.38" x2="1544.10" y2="1005.38" stroke="#000" stroke-width="2.2" />
<text transform="translate(1179.9,1015.4) scale(0.975,1.03)" font-size="33.8" text-anchor="end" >0.6</text>
<line x1="1186.10" y1="932.00" x2="1192.10" y2="932.00" stroke="#000" stroke-width="2.2" />
<line x1="1550.10" y1="932.00" x2="1544.10" y2="932.00" stroke="#000" stroke-width="2.2" />
<text transform="translate(1179.9,942.0) scale(0.975,1.03)" font-size="33.8" text-anchor="end" >0.8</text>
<line x1="1186.10" y1="1188.81" x2="1189.60" y2="1188.81" stroke="#000" stroke-width="2.2" />
<line x1="1550.10" y1="1188.81" x2="1546.60" y2="1188.81" stroke="#000" stroke-width="2.2" />
<line x1="1186.10" y1="1115.44" x2="1189.60" y2="1115.44" stroke="#000" stroke-width="2.2" />
<line x1="1550.10" y1="1115.44" x2="1546.60" y2="1115.44" stroke="#000" stroke-width="2.2" />
<line x1="1186.10" y1="1042.06" x2="1189.60" y2="1042.06" stroke="#000" stroke-width="2.2" />
<line x1="1550.10" y1="1042.06" x2="1546.60" y2="1042.06" stroke="#000" stroke-width="2.2" />
<line x1="1186.10" y1="968.69" x2="1189.60" y2="968.69" stroke="#000" stroke-width="2.2" />
<line x1="1550.10" y1="968.69" x2="1546.60" y2="968.69" stroke="#000" stroke-width="2.2" />
<line x1="1212.10" y1="1225.50" x2="1212.10" y2="1219.50" stroke="#000" stroke-width="2.2" />
<line x1="1212.10" y1="932.00" x2="1212.10" y2="938.00" stroke="#000" stroke-width="2.2" />
<text transform="translate(1212.1,1258.1) scale(0.975,1.03)" font-size="33.8" text-anchor="middle" >0</text>
<line x1="1290.10" y1="1225.50" x2="1290.10" y2="1219.50" stroke="#000" stroke-width="2.2" />
<line x1="1290.10" y1="932.00" x2="1290.10" y2="938.00" stroke="#000" stroke-width="2.2" />
<text transform="translate(1290.1,1258.1) scale(0.975,1.03)" font-size="33.8" text-anchor="middle" >300</text>
<line x1="1368.10" y1="1225.50" x2="1368.10" y2="1219.50" stroke="#000" stroke-width="2.2" />
<line x1="1368.10" y1="932.00" x2="1368.10" y2="938.00" stroke="#000" stroke-width="2.2" />
<text transform="translate(1368.1,1258.1) scale(0.975,1.03)" font-size="33.8" text-anchor="middle" >600</text>
<line x1="1446.10" y1="1225.50" x2="1446.10" y2="1219.50" stroke="#000" stroke-width="2.2" />
<line x1="1446.10" y1="932.00" x2="1446.10" y2="938.00" stroke="#000" stroke-width="2.2" />
<text transform="translate(1446.1,1258.1) scale(0.975,1.03)" font-size="33.8" text-anchor="middle" >900</text>
<line x1="1524.10" y1="1225.50" x2="1524.10" y2="1219.50" stroke="#000" stroke-width="2.2" />
<line x1="1524.10" y1="932.00" x2="1524.10" y2="938.00" stroke="#000" stroke-width="2.2" />
<text transform="translate(1524.1,1258.1) scale(0.975,1.03)" font-size="33.8" text-anchor="middle" >1200</text>
<line x1="1251.10" y1="1225.50" x2="1251.10" y2="1222.00" stroke="#000" stroke-width="2.2" />
<line x1="1251.10" y1="932.00" x2="1251.10" y2="935.50" stroke="#000" stroke-width="2.2" />
<line x1="1329.10" y1="1225.50" x2="1329.10" y2="1222.00" stroke="#000" stroke-width="2.2" />
<line x1="1329.10" y1="932.00" x2="1329.10" y2="935.50" stroke="#000" stroke-width="2.2" />
<line x1="1407.10" y1="1225.50" x2="1407.10" y2="1222.00" stroke="#000" stroke-width="2.2" />
<line x1="1407.10" y1="932.00" x2="1407.10" y2="935.50" stroke="#000" stroke-width="2.2" />
<line x1="1485.10" y1="1225.50" x2="1485.10" y2="1222.00" stroke="#000" stroke-width="2.2" />
<line x1="1485.10" y1="932.00" x2="1485.10" y2="935.50" stroke="#000" stroke-width="2.2" />
<text transform="translate(1225.1,1126.2)" font-size="30" text-anchor="middle" >*</text>
<text transform="translate(1288.0,1091.2)" font-size="30" text-anchor="middle" >*</text>
<text transform="translate(1199.0,969.5)" font-size="31" text-anchor="start" >(i)</text>
<text transform="translate(1101.8,1078.2) rotate(-90)" font-size="31" text-anchor="middle" >Y(NO)</text>
<text transform="translate(1386.4,1297.4)" font-size="31" text-anchor="middle" >Light intensity</text>
<text transform="translate(1386.4,1335.4)" font-size="31" text-anchor="middle" >(μmol photons m<tspan dy="-9.9" font-size="21.1">-2</tspan><tspan dy="9.9"> s</tspan><tspan dy="-9.9" font-size="21.1">-1</tspan><tspan dy="9.9">)</tspan></text>
<line x1="163.89" y1="1428.57" x2="163.89" y2="1442.76" stroke="#69a614" stroke-width="3" />
<line x1="160.69" y1="1428.57" x2="167.09" y2="1428.57" stroke="#69a614" stroke-width="3" />
<line x1="163.89" y1="1459.26" x2="163.89" y2="1473.44" stroke="#69a614" stroke-width="3" />
<line x1="160.69" y1="1473.44" x2="167.09" y2="1473.44" stroke="#69a614" stroke-width="3" />
<line x1="180.00" y1="1430.30" x2="180.00" y2="1447.93" stroke="#69a614" stroke-width="3" />
<line x1="176.80" y1="1430.30" x2="183.20" y2="1430.30" stroke="#69a614" stroke-width="3" />
<line x1="180.00" y1="1464.43" x2="180.00" y2="1482.07" stroke="#69a614" stroke-width="3" />
<line x1="176.80" y1="1482.07" x2="183.20" y2="1482.07" stroke="#69a614" stroke-width="3" />
<line x1="226.79" y1="1457.91" x2="226.79" y2="1479.00" stroke="#69a614" stroke-width="3" />
<line x1="223.59" y1="1457.91" x2="229.99" y2="1457.91" stroke="#69a614" stroke-width="3" />
<line x1="226.79" y1="1495.50" x2="226.79" y2="1514.86" stroke="#69a614" stroke-width="3" />
<line x1="223.59" y1="1514.86" x2="229.99" y2="1514.86" stroke="#69a614" stroke-width="3" />
<line x1="304.25" y1="1499.33" x2="304.25" y2="1508.34" stroke="#69a614" stroke-width="3" />
<line x1="301.05" y1="1499.33" x2="307.45" y2="1499.33" stroke="#69a614" stroke-width="3" />
<line x1="304.25" y1="1524.84" x2="304.25" y2="1533.85" stroke="#69a614" stroke-width="3" />
<line x1="301.05" y1="1533.85" x2="307.45" y2="1533.85" stroke="#69a614" stroke-width="3" />
<line x1="394.71" y1="1509.69" x2="394.71" y2="1523.87" stroke="#69a614" stroke-width="3" />
<line x1="391.51" y1="1509.69" x2="397.91" y2="1509.69" stroke="#69a614" stroke-width="3" />
<line x1="394.71" y1="1540.37" x2="394.71" y2="1552.83" stroke="#69a614" stroke-width="3" />
<line x1="391.51" y1="1552.83" x2="397.91" y2="1552.83" stroke="#69a614" stroke-width="3" />
<line x1="462.81" y1="1518.32" x2="462.81" y2="1530.78" stroke="#69a614" stroke-width="3" />
<line x1="459.61" y1="1518.32" x2="466.01" y2="1518.32" stroke="#69a614" stroke-width="3" />
<line x1="462.81" y1="1547.28" x2="462.81" y2="1559.74" stroke="#69a614" stroke-width="3" />
<line x1="459.61" y1="1559.74" x2="466.01" y2="1559.74" stroke="#69a614" stroke-width="3" />
<rect x="156.99" y="1444.11" width="13.8" height="13.8" fill="none" stroke="#69a614" stroke-width="3.7" stroke-linejoin="round"/>
<rect x="173.10" y="1449.28" width="13.8" height="13.8" fill="none" stroke="#69a614" stroke-width="3.7" stroke-linejoin="round"/>
<rect x="219.89" y="1480.35" width="13.8" height="13.8" fill="none" stroke="#69a614" stroke-width="3.7" stroke-linejoin="round"/>
<rect x="297.35" y="1509.69" width="13.8" height="13.8" fill="none" stroke="#69a614" stroke-width="3.7" stroke-linejoin="round"/>
<rect x="387.81" y="1525.22" width="13.8" height="13.8" fill="none" stroke="#69a614" stroke-width="3.7" stroke-linejoin="round"/>
<rect x="455.91" y="1532.13" width="13.8" height="13.8" fill="none" stroke="#69a614" stroke-width="3.7" stroke-linejoin="round"/>
<line x1="163.89" y1="1423.39" x2="163.89" y2="1436.73" stroke="#f66c6e" stroke-width="3" />
<line x1="160.69" y1="1423.39" x2="167.09" y2="1423.39" stroke="#f66c6e" stroke-width="3" />
<line x1="163.89" y1="1454.93" x2="163.89" y2="1468.26" stroke="#f66c6e" stroke-width="3" />
<line x1="160.69" y1="1468.26" x2="167.09" y2="1468.26" stroke="#f66c6e" stroke-width="3" />
<line x1="180.00" y1="1416.49" x2="180.00" y2="1433.28" stroke="#f66c6e" stroke-width="3" />
<line x1="176.80" y1="1416.49" x2="183.20" y2="1416.49" stroke="#f66c6e" stroke-width="3" />
<line x1="180.00" y1="1451.48" x2="180.00" y2="1469.99" stroke="#f66c6e" stroke-width="3" />
<line x1="176.80" y1="1469.99" x2="183.20" y2="1469.99" stroke="#f66c6e" stroke-width="3" />
<line x1="226.79" y1="1475.17" x2="226.79" y2="1490.23" stroke="#f66c6e" stroke-width="3" />
<line x1="223.59" y1="1475.17" x2="229.99" y2="1475.17" stroke="#f66c6e" stroke-width="3" />
<line x1="226.79" y1="1508.43" x2="226.79" y2="1521.77" stroke="#f66c6e" stroke-width="3" />
<line x1="223.59" y1="1521.77" x2="229.99" y2="1521.77" stroke="#f66c6e" stroke-width="3" />
<line x1="304.25" y1="1482.07" x2="304.25" y2="1498.86" stroke="#f66c6e" stroke-width="3" />
<line x1="301.05" y1="1482.07" x2="307.45" y2="1482.07" stroke="#f66c6e" stroke-width="3" />
<line x1="304.25" y1="1517.06" x2="304.25" y2="1533.85" stroke="#f66c6e" stroke-width="3" />
<line x1="301.05" y1="1533.85" x2="307.45" y2="1533.85" stroke="#f66c6e" stroke-width="3" />
<line x1="394.71" y1="1507.96" x2="394.71" y2="1531.65" stroke="#f66c6e" stroke-width="3" />
<line x1="391.51" y1="1507.96" x2="397.91" y2="1507.96" stroke="#f66c6e" stroke-width="3" />
<line x1="394.71" y1="1549.85" x2="394.71" y2="1573.54" stroke="#f66c6e" stroke-width="3" />
<line x1="391.51" y1="1573.54" x2="397.91" y2="1573.54" stroke="#f66c6e" stroke-width="3" />
<line x1="462.81" y1="1518.32" x2="462.81" y2="1542.01" stroke="#f66c6e" stroke-width="3" />
<line x1="459.61" y1="1518.32" x2="466.01" y2="1518.32" stroke="#f66c6e" stroke-width="3" />
<line x1="462.81" y1="1560.21" x2="462.81" y2="1583.90" stroke="#f66c6e" stroke-width="3" />
<line x1="459.61" y1="1583.90" x2="466.01" y2="1583.90" stroke="#f66c6e" stroke-width="3" />
<circle cx="163.89" cy="1445.83" r="7.8" fill="none" stroke="#f66c6e" stroke-width="3.6"/>
<circle cx="180.00" cy="1442.38" r="7.8" fill="none" stroke="#f66c6e" stroke-width="3.6"/>
<circle cx="226.79" cy="1499.33" r="7.8" fill="none" stroke="#f66c6e" stroke-width="3.6"/>
<circle cx="304.25" cy="1507.96" r="7.8" fill="none" stroke="#f66c6e" stroke-width="3.6"/>
<circle cx="394.71" cy="1540.75" r="7.8" fill="none" stroke="#f66c6e" stroke-width="3.6"/>
<circle cx="462.81" cy="1551.11" r="7.8" fill="none" stroke="#f66c6e" stroke-width="3.6"/>
<rect x="124.9" y="1390.6" width="363.9" height="293.4" fill="none" stroke="#000" stroke-width="2.3"/>
<line x1="124.90" y1="1666.74" x2="130.90" y2="1666.74" stroke="#000" stroke-width="2.2" />
<line x1="488.80" y1="1666.74" x2="482.80" y2="1666.74" stroke="#000" stroke-width="2.2" />
<text transform="translate(118.7,1676.7) scale(0.975,1.03)" font-size="33.8" text-anchor="end" >0.0</text>
<line x1="124.90" y1="1597.71" x2="130.90" y2="1597.71" stroke="#000" stroke-width="2.2" />
<line x1="488.80" y1="1597.71" x2="482.80" y2="1597.71" stroke="#000" stroke-width="2.2" />
<text transform="translate(118.7,1607.7) scale(0.975,1.03)" font-size="33.8" text-anchor="end" >0.2</text>
<line x1="124.90" y1="1528.67" x2="130.90" y2="1528.67" stroke="#000" stroke-width="2.2" />
<line x1="488.80" y1="1528.67" x2="482.80" y2="1528.67" stroke="#000" stroke-width="2.2" />
<text transform="translate(118.7,1538.7) scale(0.975,1.03)" font-size="33.8" text-anchor="end" >0.4</text>
<line x1="124.90" y1="1459.64" x2="130.90" y2="1459.64" stroke="#000" stroke-width="2.2" />
<line x1="488.80" y1="1459.64" x2="482.80" y2="1459.64" stroke="#000" stroke-width="2.2" />
<text transform="translate(118.7,1469.6) scale(0.975,1.03)" font-size="33.8" text-anchor="end" >0.6</text>
<line x1="124.90" y1="1390.60" x2="130.90" y2="1390.60" stroke="#000" stroke-width="2.2" />
<line x1="488.80" y1="1390.60" x2="482.80" y2="1390.60" stroke="#000" stroke-width="2.2" />
<text transform="translate(118.7,1400.6) scale(0.975,1.03)" font-size="33.8" text-anchor="end" >0.8</text>
<line x1="124.90" y1="1632.22" x2="128.40" y2="1632.22" stroke="#000" stroke-width="2.2" />
<line x1="488.80" y1="1632.22" x2="485.30" y2="1632.22" stroke="#000" stroke-width="2.2" />
<line x1="124.90" y1="1563.19" x2="128.40" y2="1563.19" stroke="#000" stroke-width="2.2" />
<line x1="488.80" y1="1563.19" x2="485.30" y2="1563.19" stroke="#000" stroke-width="2.2" />
<line x1="124.90" y1="1494.15" x2="128.40" y2="1494.15" stroke="#000" stroke-width="2.2" />
<line x1="488.80" y1="1494.15" x2="485.30" y2="1494.15" stroke="#000" stroke-width="2.2" />
<line x1="124.90" y1="1425.12" x2="128.40" y2="1425.12" stroke="#000" stroke-width="2.2" />
<line x1="488.80" y1="1425.12" x2="485.30" y2="1425.12" stroke="#000" stroke-width="2.2" />
<line x1="150.89" y1="1684.00" x2="150.89" y2="1678.00" stroke="#000" stroke-width="2.2" />
<line x1="150.89" y1="1390.60" x2="150.89" y2="1396.60" stroke="#000" stroke-width="2.2" />
<text transform="translate(150.9,1716.6) scale(0.975,1.03)" font-size="33.8" text-anchor="middle" >0</text>
<line x1="228.87" y1="1684.00" x2="228.87" y2="1678.00" stroke="#000" stroke-width="2.2" />
<line x1="228.87" y1="1390.60" x2="228.87" y2="1396.60" stroke="#000" stroke-width="2.2" />
<text transform="translate(228.9,1716.6) scale(0.975,1.03)" font-size="33.8" text-anchor="middle" >300</text>
<line x1="306.85" y1="1684.00" x2="306.85" y2="1678.00" stroke="#000" stroke-width="2.2" />
<line x1="306.85" y1="1390.60" x2="306.85" y2="1396.60" stroke="#000" stroke-width="2.2" />
<text transform="translate(306.9,1716.6) scale(0.975,1.03)" font-size="33.8" text-anchor="middle" >600</text>
<line x1="384.83" y1="1684.00" x2="384.83" y2="1678.00" stroke="#000" stroke-width="2.2" />
<line x1="384.83" y1="1390.60" x2="384.83" y2="1396.60" stroke="#000" stroke-width="2.2" />
<text transform="translate(384.8,1716.6) scale(0.975,1.03)" font-size="33.8" text-anchor="middle" >900</text>
<line x1="462.81" y1="1684.00" x2="462.81" y2="1678.00" stroke="#000" stroke-width="2.2" />
<line x1="462.81" y1="1390.60" x2="462.81" y2="1396.60" stroke="#000" stroke-width="2.2" />
<text transform="translate(462.8,1716.6) scale(0.975,1.03)" font-size="33.8" text-anchor="middle" >1200</text>
<line x1="189.88" y1="1684.00" x2="189.88" y2="1680.50" stroke="#000" stroke-width="2.2" />
<line x1="189.88" y1="1390.60" x2="189.88" y2="1394.10" stroke="#000" stroke-width="2.2" />
<line x1="267.86" y1="1684.00" x2="267.86" y2="1680.50" stroke="#000" stroke-width="2.2" />
<line x1="267.86" y1="1390.60" x2="267.86" y2="1394.10" stroke="#000" stroke-width="2.2" />
<line x1="345.84" y1="1684.00" x2="345.84" y2="1680.50" stroke="#000" stroke-width="2.2" />
<line x1="345.84" y1="1390.60" x2="345.84" y2="1394.10" stroke="#000" stroke-width="2.2" />
<line x1="423.82" y1="1684.00" x2="423.82" y2="1680.50" stroke="#000" stroke-width="2.2" />
<line x1="423.82" y1="1390.60" x2="423.82" y2="1394.10" stroke="#000" stroke-width="2.2" />
<text transform="translate(127.5,1426.0)" font-size="31" text-anchor="start" >(j)</text>
<text transform="translate(43.3,1538.3) rotate(-90)" font-size="31" text-anchor="middle" >Y(I)</text>
<text transform="translate(318.6,1766.8)" font-size="31" text-anchor="middle" >Light intensity</text>
<text transform="translate(318.6,1803.6)" font-size="31" text-anchor="middle" >(μmol photons m<tspan dy="-9.9" font-size="21.1">-2</tspan><tspan dy="9.9"> s</tspan><tspan dy="-9.9" font-size="21.1">-1</tspan><tspan dy="9.9">)</tspan></text>
<line x1="923.15" y1="1603.81" x2="923.15" y2="1605.92" stroke="#69a614" stroke-width="3" />
<line x1="919.95" y1="1603.81" x2="926.35" y2="1603.81" stroke="#69a614" stroke-width="3" />
<line x1="923.15" y1="1622.42" x2="923.15" y2="1624.53" stroke="#69a614" stroke-width="3" />
<line x1="919.95" y1="1624.53" x2="926.35" y2="1624.53" stroke="#69a614" stroke-width="3" />
<line x1="991.29" y1="1606.88" x2="991.29" y2="1610.71" stroke="#69a614" stroke-width="3" />
<line x1="988.09" y1="1610.71" x2="994.49" y2="1610.71" stroke="#69a614" stroke-width="3" />
<rect x="685.31" y="1657.34" width="13.8" height="13.8" fill="none" stroke="#69a614" stroke-width="3.7" stroke-linejoin="round"/>
<rect x="701.44" y="1655.61" width="13.8" height="13.8" fill="none" stroke="#69a614" stroke-width="3.7" stroke-linejoin="round"/>
<rect x="748.25" y="1652.16" width="13.8" height="13.8" fill="none" stroke="#69a614" stroke-width="3.7" stroke-linejoin="round"/>
<rect x="825.75" y="1636.62" width="13.8" height="13.8" fill="none" stroke="#69a614" stroke-width="3.7" stroke-linejoin="round"/>
<rect x="916.25" y="1607.27" width="13.8" height="13.8" fill="none" stroke="#69a614" stroke-width="3.7" stroke-linejoin="round"/>
<rect x="984.39" y="1591.73" width="13.8" height="13.8" fill="none" stroke="#69a614" stroke-width="3.7" stroke-linejoin="round"/>
<line x1="832.65" y1="1598.63" x2="832.65" y2="1611.97" stroke="#f66c6e" stroke-width="3" />
<line x1="829.45" y1="1598.63" x2="835.85" y2="1598.63" stroke="#f66c6e" stroke-width="3" />
<line x1="832.65" y1="1630.17" x2="832.65" y2="1643.52" stroke="#f66c6e" stroke-width="3" />
<line x1="829.45" y1="1643.52" x2="835.85" y2="1643.52" stroke="#f66c6e" stroke-width="3" />
<line x1="923.15" y1="1543.38" x2="923.15" y2="1567.09" stroke="#f66c6e" stroke-width="3" />
<line x1="919.95" y1="1543.38" x2="926.35" y2="1543.38" stroke="#f66c6e" stroke-width="3" />
<line x1="923.15" y1="1585.29" x2="923.15" y2="1608.99" stroke="#f66c6e" stroke-width="3" />
<line x1="919.95" y1="1608.99" x2="926.35" y2="1608.99" stroke="#f66c6e" stroke-width="3" />
<line x1="991.29" y1="1524.39" x2="991.29" y2="1549.82" stroke="#f66c6e" stroke-width="3" />
<line x1="988.09" y1="1524.39" x2="994.49" y2="1524.39" stroke="#f66c6e" stroke-width="3" />
<line x1="991.29" y1="1568.02" x2="991.29" y2="1591.72" stroke="#f66c6e" stroke-width="3" />
<line x1="988.09" y1="1591.72" x2="994.49" y2="1591.72" stroke="#f66c6e" stroke-width="3" />
<circle cx="692.21" cy="1664.24" r="7.8" fill="none" stroke="#f66c6e" stroke-width="3.6"/>
<circle cx="708.34" cy="1664.24" r="7.8" fill="none" stroke="#f66c6e" stroke-width="3.6"/>
<circle cx="755.15" cy="1652.15" r="7.8" fill="none" stroke="#f66c6e" stroke-width="3.6"/>
<circle cx="832.65" cy="1621.07" r="7.8" fill="none" stroke="#f66c6e" stroke-width="3.6"/>
<circle cx="923.15" cy="1576.19" r="7.8" fill="none" stroke="#f66c6e" stroke-width="3.6"/>
<circle cx="991.29" cy="1558.92" r="7.8" fill="none" stroke="#f66c6e" stroke-width="3.6"/>
<rect x="653.2" y="1388.0" width="364.1" height="293.5" fill="none" stroke="#000" stroke-width="2.3"/>
<line x1="653.20" y1="1664.24" x2="659.20" y2="1664.24" stroke="#000" stroke-width="2.2" />
<line x1="1017.30" y1="1664.24" x2="1011.30" y2="1664.24" stroke="#000" stroke-width="2.2" />
<text transform="translate(647.0,1674.2) scale(0.975,1.03)" font-size="33.8" text-anchor="end" >0.0</text>
<line x1="653.20" y1="1595.18" x2="659.20" y2="1595.18" stroke="#000" stroke-width="2.2" />
<line x1="1017.30" y1="1595.18" x2="1011.30" y2="1595.18" stroke="#000" stroke-width="2.2" />
<text transform="translate(647.0,1605.2) scale(0.975,1.03)" font-size="33.8" text-anchor="end" >0.2</text>
<line x1="653.20" y1="1526.12" x2="659.20" y2="1526.12" stroke="#000" stroke-width="2.2" />
<line x1="1017.30" y1="1526.12" x2="1011.30" y2="1526.12" stroke="#000" stroke-width="2.2" />
<text transform="translate(647.0,1536.1) scale(0.975,1.03)" font-size="33.8" text-anchor="end" >0.4</text>
<line x1="653.20" y1="1457.06" x2="659.20" y2="1457.06" stroke="#000" stroke-width="2.2" />
<line x1="1017.30" y1="1457.06" x2="1011.30" y2="1457.06" stroke="#000" stroke-width="2.2" />
<text transform="translate(647.0,1467.1) scale(0.975,1.03)" font-size="33.8" text-anchor="end" >0.6</text>
<line x1="653.20" y1="1388.00" x2="659.20" y2="1388.00" stroke="#000" stroke-width="2.2" />
<line x1="1017.30" y1="1388.00" x2="1011.30" y2="1388.00" stroke="#000" stroke-width="2.2" />
<text transform="translate(647.0,1398.0) scale(0.975,1.03)" font-size="33.8" text-anchor="end" >0.8</text>
<line x1="653.20" y1="1629.71" x2="656.70" y2="1629.71" stroke="#000" stroke-width="2.2" />
<line x1="1017.30" y1="1629.71" x2="1013.80" y2="1629.71" stroke="#000" stroke-width="2.2" />
<line x1="653.20" y1="1560.65" x2="656.70" y2="1560.65" stroke="#000" stroke-width="2.2" />
<line x1="1017.30" y1="1560.65" x2="1013.80" y2="1560.65" stroke="#000" stroke-width="2.2" />
<line x1="653.20" y1="1491.59" x2="656.70" y2="1491.59" stroke="#000" stroke-width="2.2" />
<line x1="1017.30" y1="1491.59" x2="1013.80" y2="1491.59" stroke="#000" stroke-width="2.2" />
<line x1="653.20" y1="1422.53" x2="656.70" y2="1422.53" stroke="#000" stroke-width="2.2" />
<line x1="1017.30" y1="1422.53" x2="1013.80" y2="1422.53" stroke="#000" stroke-width="2.2" />
<line x1="679.21" y1="1681.50" x2="679.21" y2="1675.50" stroke="#000" stroke-width="2.2" />
<line x1="679.21" y1="1388.00" x2="679.21" y2="1394.00" stroke="#000" stroke-width="2.2" />
<text transform="translate(679.2,1714.1) scale(0.975,1.03)" font-size="33.8" text-anchor="middle" >0</text>
<line x1="757.23" y1="1681.50" x2="757.23" y2="1675.50" stroke="#000" stroke-width="2.2" />
<line x1="757.23" y1="1388.00" x2="757.23" y2="1394.00" stroke="#000" stroke-width="2.2" />
<text transform="translate(757.2,1714.1) scale(0.975,1.03)" font-size="33.8" text-anchor="middle" >300</text>
<line x1="835.25" y1="1681.50" x2="835.25" y2="1675.50" stroke="#000" stroke-width="2.2" />
<line x1="835.25" y1="1388.00" x2="835.25" y2="1394.00" stroke="#000" stroke-width="2.2" />
<text transform="translate(835.2,1714.1) scale(0.975,1.03)" font-size="33.8" text-anchor="middle" >600</text>
<line x1="913.27" y1="1681.50" x2="913.27" y2="1675.50" stroke="#000" stroke-width="2.2" />
<line x1="913.27" y1="1388.00" x2="913.27" y2="1394.00" stroke="#000" stroke-width="2.2" />
<text transform="translate(913.3,1714.1) scale(0.975,1.03)" font-size="33.8" text-anchor="middle" >900</text>
<line x1="991.29" y1="1681.50" x2="991.29" y2="1675.50" stroke="#000" stroke-width="2.2" />
<line x1="991.29" y1="1388.00" x2="991.29" y2="1394.00" stroke="#000" stroke-width="2.2" />
<text transform="translate(991.3,1714.1) scale(0.975,1.03)" font-size="33.8" text-anchor="middle" >1200</text>
<line x1="718.22" y1="1681.50" x2="718.22" y2="1678.00" stroke="#000" stroke-width="2.2" />
<line x1="718.22" y1="1388.00" x2="718.22" y2="1391.50" stroke="#000" stroke-width="2.2" />
<line x1="796.24" y1="1681.50" x2="796.24" y2="1678.00" stroke="#000" stroke-width="2.2" />
<line x1="796.24" y1="1388.00" x2="796.24" y2="1391.50" stroke="#000" stroke-width="2.2" />
<line x1="874.26" y1="1681.50" x2="874.26" y2="1678.00" stroke="#000" stroke-width="2.2" />
<line x1="874.26" y1="1388.00" x2="874.26" y2="1391.50" stroke="#000" stroke-width="2.2" />
<line x1="952.28" y1="1681.50" x2="952.28" y2="1678.00" stroke="#000" stroke-width="2.2" />
<line x1="952.28" y1="1388.00" x2="952.28" y2="1391.50" stroke="#000" stroke-width="2.2" />
<text transform="translate(755.1,1644.5)" font-size="30" text-anchor="middle" >*</text>
<text transform="translate(832.6,1597.2)" font-size="30" text-anchor="middle" >**</text>
<text transform="translate(923.2,1540.5)" font-size="30" text-anchor="middle" >**</text>
<text transform="translate(991.3,1521.8)" font-size="30" text-anchor="middle" >**</text>
<text transform="translate(668.0,1425.0)" font-size="31" text-anchor="start" >(k)</text>
<text transform="translate(567.8,1533.3) rotate(-90)" font-size="31" text-anchor="middle" >Y(ND)</text>
<text transform="translate(859.6,1752.6)" font-size="31" text-anchor="middle" >Light intensity</text>
<text transform="translate(859.6,1789.6)" font-size="31" text-anchor="middle" >(μmol photons m<tspan dy="-9.9" font-size="21.1">-2</tspan><tspan dy="9.9"> s</tspan><tspan dy="-9.9" font-size="21.1">-1</tspan><tspan dy="9.9">)</tspan></text>
<line x1="1224.81" y1="1514.45" x2="1224.81" y2="1528.60" stroke="#69a614" stroke-width="3" />
<line x1="1221.61" y1="1514.45" x2="1228.01" y2="1514.45" stroke="#69a614" stroke-width="3" />
<line x1="1224.81" y1="1545.10" x2="1224.81" y2="1560.97" stroke="#69a614" stroke-width="3" />
<line x1="1221.61" y1="1560.97" x2="1228.01" y2="1560.97" stroke="#69a614" stroke-width="3" />
<line x1="1240.94" y1="1507.56" x2="1240.94" y2="1526.88" stroke="#69a614" stroke-width="3" />
<line x1="1237.74" y1="1507.56" x2="1244.14" y2="1507.56" stroke="#69a614" stroke-width="3" />
<line x1="1240.94" y1="1543.38" x2="1240.94" y2="1560.97" stroke="#69a614" stroke-width="3" />
<line x1="1237.74" y1="1560.97" x2="1244.14" y2="1560.97" stroke="#69a614" stroke-width="3" />
<line x1="1287.75" y1="1476.55" x2="1287.75" y2="1501.03" stroke="#69a614" stroke-width="3" />
<line x1="1284.55" y1="1476.55" x2="1290.95" y2="1476.55" stroke="#69a614" stroke-width="3" />
<line x1="1287.75" y1="1517.53" x2="1287.75" y2="1540.30" stroke="#69a614" stroke-width="3" />
<line x1="1284.55" y1="1540.30" x2="1290.95" y2="1540.30" stroke="#69a614" stroke-width="3" />
<line x1="1365.25" y1="1474.82" x2="1365.25" y2="1482.08" stroke="#69a614" stroke-width="3" />
<line x1="1362.05" y1="1474.82" x2="1368.45" y2="1474.82" stroke="#69a614" stroke-width="3" />
<line x1="1365.25" y1="1498.58" x2="1365.25" y2="1507.56" stroke="#69a614" stroke-width="3" />
<line x1="1362.05" y1="1507.56" x2="1368.45" y2="1507.56" stroke="#69a614" stroke-width="3" />
<line x1="1455.75" y1="1492.05" x2="1455.75" y2="1499.31" stroke="#69a614" stroke-width="3" />
<line x1="1452.55" y1="1492.05" x2="1458.95" y2="1492.05" stroke="#69a614" stroke-width="3" />
<line x1="1455.75" y1="1515.81" x2="1455.75" y2="1521.34" stroke="#69a614" stroke-width="3" />
<line x1="1452.55" y1="1521.34" x2="1458.95" y2="1521.34" stroke="#69a614" stroke-width="3" />
<line x1="1523.89" y1="1502.39" x2="1523.89" y2="1506.20" stroke="#69a614" stroke-width="3" />
<line x1="1520.69" y1="1502.39" x2="1527.09" y2="1502.39" stroke="#69a614" stroke-width="3" />
<line x1="1523.89" y1="1522.70" x2="1523.89" y2="1526.51" stroke="#69a614" stroke-width="3" />
<line x1="1520.69" y1="1526.51" x2="1527.09" y2="1526.51" stroke="#69a614" stroke-width="3" />
<rect x="1217.91" y="1529.95" width="13.8" height="13.8" fill="none" stroke="#69a614" stroke-width="3.7" stroke-linejoin="round"/>
<rect x="1234.04" y="1528.23" width="13.8" height="13.8" fill="none" stroke="#69a614" stroke-width="3.7" stroke-linejoin="round"/>
<rect x="1280.85" y="1502.38" width="13.8" height="13.8" fill="none" stroke="#69a614" stroke-width="3.7" stroke-linejoin="round"/>
<rect x="1358.35" y="1483.43" width="13.8" height="13.8" fill="none" stroke="#69a614" stroke-width="3.7" stroke-linejoin="round"/>
<rect x="1448.85" y="1500.66" width="13.8" height="13.8" fill="none" stroke="#69a614" stroke-width="3.7" stroke-linejoin="round"/>
<rect x="1516.99" y="1507.55" width="13.8" height="13.8" fill="none" stroke="#69a614" stroke-width="3.7" stroke-linejoin="round"/>
<line x1="1224.81" y1="1517.90" x2="1224.81" y2="1532.92" stroke="#f66c6e" stroke-width="3" />
<line x1="1221.61" y1="1517.90" x2="1228.01" y2="1517.90" stroke="#f66c6e" stroke-width="3" />
<line x1="1224.81" y1="1551.12" x2="1224.81" y2="1564.42" stroke="#f66c6e" stroke-width="3" />
<line x1="1221.61" y1="1564.42" x2="1228.01" y2="1564.42" stroke="#f66c6e" stroke-width="3" />
<line x1="1240.94" y1="1517.90" x2="1240.94" y2="1534.64" stroke="#f66c6e" stroke-width="3" />
<line x1="1237.74" y1="1517.90" x2="1244.14" y2="1517.90" stroke="#f66c6e" stroke-width="3" />
<line x1="1240.94" y1="1552.84" x2="1240.94" y2="1569.59" stroke="#f66c6e" stroke-width="3" />
<line x1="1237.74" y1="1569.59" x2="1244.14" y2="1569.59" stroke="#f66c6e" stroke-width="3" />
<line x1="1287.75" y1="1478.27" x2="1287.75" y2="1491.57" stroke="#f66c6e" stroke-width="3" />
<line x1="1284.55" y1="1478.27" x2="1290.95" y2="1478.27" stroke="#f66c6e" stroke-width="3" />
<line x1="1287.75" y1="1509.77" x2="1287.75" y2="1524.79" stroke="#f66c6e" stroke-width="3" />
<line x1="1284.55" y1="1524.79" x2="1290.95" y2="1524.79" stroke="#f66c6e" stroke-width="3" />
<line x1="1365.25" y1="1493.78" x2="1365.25" y2="1513.97" stroke="#f66c6e" stroke-width="3" />
<line x1="1362.05" y1="1493.78" x2="1368.45" y2="1493.78" stroke="#f66c6e" stroke-width="3" />
<line x1="1365.25" y1="1532.17" x2="1365.25" y2="1554.08" stroke="#f66c6e" stroke-width="3" />
<line x1="1362.05" y1="1554.08" x2="1368.45" y2="1554.08" stroke="#f66c6e" stroke-width="3" />
<line x1="1455.75" y1="1500.67" x2="1455.75" y2="1526.03" stroke="#f66c6e" stroke-width="3" />
<line x1="1452.55" y1="1500.67" x2="1458.95" y2="1500.67" stroke="#f66c6e" stroke-width="3" />
<line x1="1455.75" y1="1544.23" x2="1455.75" y2="1569.59" stroke="#f66c6e" stroke-width="3" />
<line x1="1452.55" y1="1569.59" x2="1458.95" y2="1569.59" stroke="#f66c6e" stroke-width="3" />
<line x1="1523.89" y1="1511.01" x2="1523.89" y2="1532.92" stroke="#f66c6e" stroke-width="3" />
<line x1="1520.69" y1="1511.01" x2="1527.09" y2="1511.01" stroke="#f66c6e" stroke-width="3" />
<line x1="1523.89" y1="1551.12" x2="1523.89" y2="1573.03" stroke="#f66c6e" stroke-width="3" />
<line x1="1520.69" y1="1573.03" x2="1527.09" y2="1573.03" stroke="#f66c6e" stroke-width="3" />
<circle cx="1224.81" cy="1542.02" r="7.8" fill="none" stroke="#f66c6e" stroke-width="3.6"/>
<circle cx="1240.94" cy="1543.74" r="7.8" fill="none" stroke="#f66c6e" stroke-width="3.6"/>
<circle cx="1287.75" cy="1500.67" r="7.8" fill="none" stroke="#f66c6e" stroke-width="3.6"/>
<circle cx="1365.25" cy="1523.07" r="7.8" fill="none" stroke="#f66c6e" stroke-width="3.6"/>
<circle cx="1455.75" cy="1535.13" r="7.8" fill="none" stroke="#f66c6e" stroke-width="3.6"/>
<circle cx="1523.89" cy="1542.02" r="7.8" fill="none" stroke="#f66c6e" stroke-width="3.6"/>
<rect x="1185.8" y="1390.4" width="364.1" height="292.9" fill="none" stroke="#000" stroke-width="2.3"/>
<line x1="1185.80" y1="1666.07" x2="1191.80" y2="1666.07" stroke="#000" stroke-width="2.2" />
<line x1="1549.90" y1="1666.07" x2="1543.90" y2="1666.07" stroke="#000" stroke-width="2.2" />
<text transform="translate(1179.6,1676.1) scale(0.975,1.03)" font-size="33.8" text-anchor="end" >0.0</text>
<line x1="1185.80" y1="1597.15" x2="1191.80" y2="1597.15" stroke="#000" stroke-width="2.2" />
<line x1="1549.90" y1="1597.15" x2="1543.90" y2="1597.15" stroke="#000" stroke-width="2.2" />
<text transform="translate(1179.6,1607.2) scale(0.975,1.03)" font-size="33.8" text-anchor="end" >0.2</text>
<line x1="1185.80" y1="1528.24" x2="1191.80" y2="1528.24" stroke="#000" stroke-width="2.2" />
<line x1="1549.90" y1="1528.24" x2="1543.90" y2="1528.24" stroke="#000" stroke-width="2.2" />
<text transform="translate(1179.6,1538.2) scale(0.975,1.03)" font-size="33.8" text-anchor="end" >0.4</text>
<line x1="1185.80" y1="1459.32" x2="1191.80" y2="1459.32" stroke="#000" stroke-width="2.2" />
<line x1="1549.90" y1="1459.32" x2="1543.90" y2="1459.32" stroke="#000" stroke-width="2.2" />
<text transform="translate(1179.6,1469.3) scale(0.975,1.03)" font-size="33.8" text-anchor="end" >0.6</text>
<line x1="1185.80" y1="1390.40" x2="1191.80" y2="1390.40" stroke="#000" stroke-width="2.2" />
<line x1="1549.90" y1="1390.40" x2="1543.90" y2="1390.40" stroke="#000" stroke-width="2.2" />
<text transform="translate(1179.6,1400.4) scale(0.975,1.03)" font-size="33.8" text-anchor="end" >0.8</text>
<line x1="1185.80" y1="1631.61" x2="1189.30" y2="1631.61" stroke="#000" stroke-width="2.2" />
<line x1="1549.90" y1="1631.61" x2="1546.40" y2="1631.61" stroke="#000" stroke-width="2.2" />
<line x1="1185.80" y1="1562.69" x2="1189.30" y2="1562.69" stroke="#000" stroke-width="2.2" />
<line x1="1549.90" y1="1562.69" x2="1546.40" y2="1562.69" stroke="#000" stroke-width="2.2" />
<line x1="1185.80" y1="1493.78" x2="1189.30" y2="1493.78" stroke="#000" stroke-width="2.2" />
<line x1="1549.90" y1="1493.78" x2="1546.40" y2="1493.78" stroke="#000" stroke-width="2.2" />
<line x1="1185.80" y1="1424.86" x2="1189.30" y2="1424.86" stroke="#000" stroke-width="2.2" />
<line x1="1549.90" y1="1424.86" x2="1546.40" y2="1424.86" stroke="#000" stroke-width="2.2" />
<line x1="1211.81" y1="1683.30" x2="1211.81" y2="1677.30" stroke="#000" stroke-width="2.2" />
<line x1="1211.81" y1="1390.40" x2="1211.81" y2="1396.40" stroke="#000" stroke-width="2.2" />
<text transform="translate(1211.8,1715.9) scale(0.975,1.03)" font-size="33.8" text-anchor="middle" >0</text>
<line x1="1289.83" y1="1683.30" x2="1289.83" y2="1677.30" stroke="#000" stroke-width="2.2" />
<line x1="1289.83" y1="1390.40" x2="1289.83" y2="1396.40" stroke="#000" stroke-width="2.2" />
<text transform="translate(1289.8,1715.9) scale(0.975,1.03)" font-size="33.8" text-anchor="middle" >300</text>
<line x1="1367.85" y1="1683.30" x2="1367.85" y2="1677.30" stroke="#000" stroke-width="2.2" />
<line x1="1367.85" y1="1390.40" x2="1367.85" y2="1396.40" stroke="#000" stroke-width="2.2" />
<text transform="translate(1367.8,1715.9) scale(0.975,1.03)" font-size="33.8" text-anchor="middle" >600</text>
<line x1="1445.87" y1="1683.30" x2="1445.87" y2="1677.30" stroke="#000" stroke-width="2.2" />
<line x1="1445.87" y1="1390.40" x2="1445.87" y2="1396.40" stroke="#000" stroke-width="2.2" />
<text transform="translate(1445.9,1715.9) scale(0.975,1.03)" font-size="33.8" text-anchor="middle" >900</text>
<line x1="1523.89" y1="1683.30" x2="1523.89" y2="1677.30" stroke="#000" stroke-width="2.2" />
<line x1="1523.89" y1="1390.40" x2="1523.89" y2="1396.40" stroke="#000" stroke-width="2.2" />
<text transform="translate(1523.9,1715.9) scale(0.975,1.03)" font-size="33.8" text-anchor="middle" >1200</text>
<line x1="1250.82" y1="1683.30" x2="1250.82" y2="1679.80" stroke="#000" stroke-width="2.2" />
<line x1="1250.82" y1="1390.40" x2="1250.82" y2="1393.90" stroke="#000" stroke-width="2.2" />
<line x1="1328.84" y1="1683.30" x2="1328.84" y2="1679.80" stroke="#000" stroke-width="2.2" />
<line x1="1328.84" y1="1390.40" x2="1328.84" y2="1393.90" stroke="#000" stroke-width="2.2" />
<line x1="1406.86" y1="1683.30" x2="1406.86" y2="1679.80" stroke="#000" stroke-width="2.2" />
<line x1="1406.86" y1="1390.40" x2="1406.86" y2="1393.90" stroke="#000" stroke-width="2.2" />
<line x1="1484.88" y1="1683.30" x2="1484.88" y2="1679.80" stroke="#000" stroke-width="2.2" />
<line x1="1484.88" y1="1390.40" x2="1484.88" y2="1393.90" stroke="#000" stroke-width="2.2" />
<text transform="translate(1366.8,1472.8)" font-size="30" text-anchor="middle" >*</text>
<text transform="translate(1523.9,1501.2)" font-size="30" text-anchor="middle" >*</text>
<text transform="translate(1202.3,1427.5)" font-size="31" text-anchor="start" >(l)</text>
<text transform="translate(1100.9,1535.5) rotate(-90)" font-size="31" text-anchor="middle" >Y(NA)</text>
<text transform="translate(1375.6,1761.7)" font-size="31" text-anchor="middle" >Light intensity</text>
<text transform="translate(1375.6,1799.5)" font-size="31" text-anchor="middle" >(μmol photons m<tspan dy="-9.9" font-size="21.1">-2</tspan><tspan dy="9.9"> s</tspan><tspan dy="-9.9" font-size="21.1">-1</tspan><tspan dy="9.9">)</tspan></text>
</svg>
</body></html>
